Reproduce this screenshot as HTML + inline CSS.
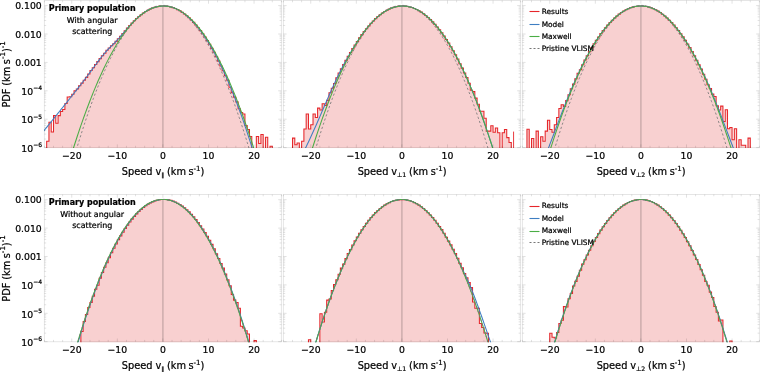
<!DOCTYPE html>
<html lang="en"><head><meta charset="utf-8"><title>PDF of speeds</title>
<style>html,body{margin:0;padding:0;background:#fff}svg{display:block}text{stroke:#000;stroke-width:0.22px;stroke-linejoin:round}</style></head>
<body>
<svg width="760" height="372" viewBox="0 0 760 372" font-family='"DejaVu Sans","Liberation Sans",sans-serif' fill="#000">
<rect width="760" height="372" fill="#fff"/>
<defs>
<clipPath id="c00"><rect x="43.9" y="0" width="238.0" height="148.1"/></clipPath>
<clipPath id="c01"><rect x="282.9" y="0" width="238.0" height="148.1"/></clipPath>
<clipPath id="c02"><rect x="521.9" y="0" width="238.0" height="148.1"/></clipPath>
<clipPath id="c10"><rect x="43.9" y="194" width="238.0" height="148.2"/></clipPath>
<clipPath id="c11"><rect x="282.9" y="194" width="238.0" height="148.2"/></clipPath>
<clipPath id="c12"><rect x="521.9" y="194" width="238.0" height="148.2"/></clipPath>
</defs>
<g clip-path="url(#c00)">
<path d="M44.39 150.6L44.39 150.6L46.67 150.6L46.67 141.2L48.95 141.2L48.95 122.3L51.23 122.3L51.23 132L53.51 132L53.51 115.6L55.79 115.6L55.79 123.3L58.07 123.3L58.07 115.6L60.35 115.6L60.35 111.5L62.62 111.5L62.62 109.5L64.9 109.5L64.9 103.5L67.18 103.5L67.18 97L69.46 97L69.46 96.7L71.74 96.7L71.74 94.3L74.02 94.3L74.02 90.8L76.3 90.8L76.3 89.03L78.58 89.03L78.58 85.68L80.86 85.68L80.86 83.11L83.14 83.11L83.14 80.15L85.41 80.15L85.41 77.35L87.69 77.35L87.69 74.03L89.97 74.03L89.97 70.57L92.25 70.57L92.25 67.7L94.53 67.7L94.53 64.5L96.81 64.5L96.81 61.62L99.09 61.62L99.09 58.61L101.37 58.61L101.37 55.75L103.65 55.75L103.65 53.26L105.93 53.26L105.93 50.34L108.2 50.34L108.2 47.98L110.48 47.98L110.48 45.7L112.76 45.7L112.76 43.67L115.04 43.67L115.04 41.35L117.32 41.35L117.32 38.83L119.6 38.83L119.6 36.22L121.88 36.22L121.88 33.49L124.16 33.49L124.16 30.81L126.44 30.81L126.44 28.11L128.72 28.11L128.72 25.57L130.99 25.57L130.99 23.05L133.27 23.05L133.27 20.71L135.55 20.71L135.55 18.57L137.83 18.57L137.83 16.47L140.11 16.47L140.11 14.66L142.39 14.66L142.39 12.96L144.67 12.96L144.67 11.52L146.95 11.52L146.95 10.2L149.23 10.2L149.23 9.05L151.5 9.05L151.5 8.08L153.78 8.08L153.78 7.29L156.06 7.29L156.06 6.7L158.34 6.7L158.34 6.3L160.62 6.3L160.62 6.07L162.9 6.07L162.9 6.01L165.18 6.01L165.18 6.1L167.46 6.1L167.46 6.47L169.74 6.47L169.74 6.95L172.02 6.95L172.02 7.64L174.3 7.64L174.3 8.57L176.57 8.57L176.57 9.61L178.85 9.61L178.85 10.84L181.13 10.84L181.13 12.37L183.41 12.37L183.41 13.96L185.69 13.96L185.69 15.78L187.97 15.78L187.97 17.82L190.25 17.82L190.25 19.97L192.53 19.97L192.53 22.38L194.81 22.38L194.81 25.02L197.09 25.02L197.09 27.67L199.36 27.67L199.36 30.63L201.64 30.63L201.64 33.74L203.92 33.74L203.92 37.02L206.2 37.02L206.2 40.62L208.48 40.62L208.48 44.34L210.76 44.34L210.76 48.39L213.04 48.39L213.04 52.24L215.32 52.24L215.32 56.69L217.6 56.69L217.6 61.13L219.88 61.13L219.88 65.98L222.15 65.98L222.15 70.8L224.43 70.8L224.43 75.72L226.71 75.72L226.71 80.18L228.99 80.18L228.99 87.24L231.27 87.24L231.27 92.71L233.55 92.71L233.55 97.29L235.83 97.29L235.83 101.87L238.11 101.87L238.11 108.79L240.39 108.79L240.39 112.5L242.67 112.5L242.67 113.9L244.94 113.9L244.94 125.5L247.22 125.5L247.22 129.5L249.5 129.5L249.5 136.5L251.78 136.5L251.78 150.6L254.06 150.6L254.06 150.6L256.34 150.6L256.34 136.4L258.62 136.4L258.62 143.4L260.9 143.4L260.9 134.5L263.18 134.5L263.18 150.6L265.45 150.6L265.45 137.3L267.73 137.3L267.73 150.6L270.01 150.6L270.01 146.3L272.29 146.3L272.29 150.6L274.57 150.6L274.57 150.6L276.85 150.6L276.85 150.6L279.13 150.6L279.13 150.6L281.41 150.6L281.41 150.6Z" fill="#f8d0d0" stroke="#e6262a" stroke-width="1.05" stroke-linejoin="miter"/>
<path d="M162.9 6.41V147.6" stroke="#000" stroke-opacity="0.19" stroke-width="1.4" fill="none"/>
<path d="M42.11 133.03L43.25 131.61L44.39 130.2L45.53 128.78L46.67 127.37L47.81 125.95L48.95 124.53L50.09 123.12L51.23 121.7L52.37 120.29L53.51 118.87L54.65 117.45L55.79 116.03L56.93 114.62L58.07 113.2L59.21 111.78L60.35 110.36L61.48 108.94L62.62 107.52L63.76 106.1L64.9 104.68L66.04 103.26L67.18 101.83L68.32 100.4L69.46 98.97L70.6 97.54L71.74 96.11L72.88 94.67L74.02 93.23L75.16 91.78L76.3 90.33L77.44 88.88L78.58 87.42L79.72 85.95L80.86 84.48L82 83L83.14 81.51L84.27 80.02L85.41 78.51L86.55 77L87.69 75.49L88.83 73.96L89.97 72.43L91.11 70.9L92.25 69.36L93.39 67.81L94.53 66.27L95.67 64.73L96.81 63.2L97.95 61.67L99.09 60.17L100.23 58.68L101.37 57.21L102.51 55.78L103.65 54.38L104.79 53.03L105.93 51.71L107.06 50.45L108.2 49.22L109.34 48.04L110.48 46.89L111.62 45.76L112.76 44.63L113.9 43.51L115.04 42.37L116.18 41.2L117.32 40L118.46 38.76L119.6 37.49L120.74 36.19L121.88 34.86L123.02 33.51L124.16 32.16L125.3 30.81L126.44 29.47L127.58 28.14L128.72 26.83L129.85 25.54L130.99 24.29L132.13 23.07L133.27 21.88L134.41 20.73L135.55 19.62L136.69 18.54L137.83 17.51L138.97 16.52L140.11 15.58L141.25 14.67L142.39 13.81L143.53 13L144.67 12.23L145.81 11.5L146.95 10.82L148.09 10.18L149.23 9.59L150.37 9.04L151.5 8.54L152.64 8.08L153.78 7.67L154.92 7.3L156.06 6.98L157.2 6.7L158.34 6.47L159.48 6.29L160.62 6.15L161.76 6.05L162.9 6L164.04 6L165.18 6.04L166.32 6.13L167.46 6.27L168.6 6.45L169.74 6.68L170.88 6.96L172.02 7.28L173.16 7.65L174.3 8.07L175.43 8.54L176.57 9.05L177.71 9.61L178.85 10.22L179.99 10.87L181.13 11.57L182.27 12.32L183.41 13.11L184.55 13.95L185.69 14.84L186.83 15.78L187.97 16.76L189.11 17.79L190.25 18.86L191.39 19.99L192.53 21.16L193.67 22.37L194.81 23.64L195.95 24.95L197.09 26.31L198.22 27.71L199.36 29.17L200.5 30.66L201.64 32.21L202.78 33.8L203.92 35.44L205.06 37.13L206.2 38.87L207.34 40.65L208.48 42.47L209.62 44.35L210.76 46.27L211.9 48.24L213.04 50.26L214.18 52.32L215.32 54.43L216.46 56.59L217.6 58.79L218.74 61.04L219.88 63.34L221.01 65.69L222.15 68.08L223.29 70.52L224.43 73L225.57 75.54L226.71 78.12L227.85 80.74L228.99 83.42L230.13 86.14L231.27 88.91L232.41 91.72L233.55 94.58L234.69 97.49L235.83 100.45L236.97 103.45L238.11 106.5L239.25 109.6L240.39 112.74L241.53 115.93L242.67 119.16L243.8 122.45L244.94 125.78L246.08 129.16L247.22 132.58L248.36 136.05L249.5 139.56L250.64 143.13L251.78 146.73L252.92 150.39L254.06 154.09L255.2 157.83L256.34 161.62L257.48 165.45L258.62 169.32L259.76 173.24L260.9 177.19L262.04 181.18L263.18 185.21L264.32 189.27L265.45 193.36L266.59 197.47L267.73 201.6L268.87 205.74L270.01 209.87L271.15 214L272.29 218.08L273.43 222.12L274.57 226.09L275.71 229.96L276.85 233.71L277.99 237.3L279.13 240.72L280.27 243.93L281.41 246.94L282.55 249.72L283.69 252.29" fill="none" stroke="#3e7ec2" stroke-width="1.05"/>
<path d="M42.11 264.03L43.25 259.21L44.39 254.44L45.53 249.71L46.67 245.03L47.81 240.39L48.95 235.8L50.09 231.25L51.23 226.75L52.37 222.3L53.51 217.89L54.65 213.52L55.79 209.21L56.93 204.93L58.07 200.7L59.21 196.52L60.35 192.38L61.48 188.29L62.62 184.25L63.76 180.24L64.9 176.29L66.04 172.38L67.18 168.51L68.32 164.7L69.46 160.92L70.6 157.19L71.74 153.51L72.88 149.87L74.02 146.28L75.16 142.73L76.3 139.23L77.44 135.78L78.58 132.36L79.72 129L80.86 125.68L82 122.41L83.14 119.18L84.27 115.99L85.41 112.86L86.55 109.76L87.69 106.72L88.83 103.71L89.97 100.76L91.11 97.85L92.25 94.98L93.39 92.16L94.53 89.39L95.67 86.66L96.81 83.97L97.95 81.33L99.09 78.74L100.23 76.19L101.37 73.69L102.51 71.23L103.65 68.82L104.79 66.46L105.93 64.14L107.06 61.86L108.2 59.63L109.34 57.45L110.48 55.31L111.62 53.21L112.76 51.16L113.9 49.16L115.04 47.2L116.18 45.29L117.32 43.43L118.46 41.61L119.6 39.83L120.74 38.1L121.88 36.41L123.02 34.78L124.16 33.18L125.3 31.63L126.44 30.13L127.58 28.67L128.72 27.26L129.85 25.89L130.99 24.57L132.13 23.29L133.27 22.06L134.41 20.88L135.55 19.74L136.69 18.64L137.83 17.6L138.97 16.59L140.11 15.63L141.25 14.72L142.39 13.85L143.53 13.03L144.67 12.25L145.81 11.52L146.95 10.84L148.09 10.2L149.23 9.6L150.37 9.05L151.5 8.55L152.64 8.09L153.78 7.68L154.92 7.31L156.06 6.99L157.2 6.71L158.34 6.48L159.48 6.29L160.62 6.15L161.76 6.06L162.9 6.01L164.04 6L165.18 6.04L166.32 6.13L167.46 6.26L168.6 6.44L169.74 6.66L170.88 6.93L172.02 7.24L173.16 7.6L174.3 8L175.43 8.45L176.57 8.95L177.71 9.49L178.85 10.07L179.99 10.71L181.13 11.38L182.27 12.1L183.41 12.87L184.55 13.68L185.69 14.54L186.83 15.45L187.97 16.4L189.11 17.39L190.25 18.43L191.39 19.52L192.53 20.65L193.67 21.82L194.81 23.04L195.95 24.31L197.09 25.62L198.22 26.98L199.36 28.39L200.5 29.83L201.64 31.33L202.78 32.87L203.92 34.45L205.06 36.08L206.2 37.76L207.34 39.48L208.48 41.25L209.62 43.06L210.76 44.92L211.9 46.82L213.04 48.77L214.18 50.76L215.32 52.8L216.46 54.88L217.6 57.01L218.74 59.19L219.88 61.41L221.01 63.68L222.15 65.99L223.29 68.34L224.43 70.75L225.57 73.2L226.71 75.69L227.85 78.23L228.99 80.81L230.13 83.44L231.27 86.12L232.41 88.84L233.55 91.6L234.69 94.41L235.83 97.27L236.97 100.17L238.11 103.12L239.25 106.11L240.39 109.15L241.53 112.23L242.67 115.36L243.8 118.54L244.94 121.76L246.08 125.02L247.22 128.33L248.36 131.69L249.5 135.09L250.64 138.54L251.78 142.03L252.92 145.57L254.06 149.15L255.2 152.78L256.34 156.45L257.48 160.17L258.62 163.94L259.76 167.75L260.9 171.6L262.04 175.5L263.18 179.45L264.32 183.44L265.45 187.48L266.59 191.56L267.73 195.69L268.87 199.86L270.01 204.08L271.15 208.35L272.29 212.66L273.43 217.01L274.57 221.41L275.71 225.86L276.85 230.35L277.99 234.89L279.13 239.47L280.27 244.1L281.41 248.77L282.55 253.49L283.69 258.25" fill="none" stroke="#4aad45" stroke-width="1.05"/>
<path d="M42.11 286.51L43.25 281.24L44.39 276.01L45.53 270.83L46.67 265.7L47.81 260.62L48.95 255.59L50.09 250.61L51.23 245.68L52.37 240.8L53.51 235.98L54.65 231.2L55.79 226.47L56.93 221.79L58.07 217.16L59.21 212.58L60.35 208.05L61.48 203.58L62.62 199.15L63.76 194.77L64.9 190.44L66.04 186.16L67.18 181.93L68.32 177.76L69.46 173.63L70.6 169.55L71.74 165.52L72.88 161.54L74.02 157.62L75.16 153.74L76.3 149.91L77.44 146.13L78.58 142.4L79.72 138.73L80.86 135.1L82 131.52L83.14 127.99L84.27 124.52L85.41 121.09L86.55 117.71L87.69 114.38L88.83 111.11L89.97 107.88L91.11 104.7L92.25 101.57L93.39 98.5L94.53 95.47L95.67 92.49L96.81 89.56L97.95 86.69L99.09 83.86L100.23 81.08L101.37 78.36L102.51 75.68L103.65 73.05L104.79 70.47L105.93 67.95L107.06 65.47L108.2 63.04L109.34 60.67L110.48 58.34L111.62 56.06L112.76 53.84L113.9 51.66L115.04 49.53L116.18 47.46L117.32 45.43L118.46 43.45L119.6 41.53L120.74 39.65L121.88 37.82L123.02 36.05L124.16 34.32L125.3 32.65L126.44 31.02L127.58 29.44L128.72 27.92L129.85 26.44L130.99 25.01L132.13 23.64L133.27 22.31L134.41 21.04L135.55 19.81L136.69 18.63L137.83 17.51L138.97 16.43L140.11 15.41L141.25 14.43L142.39 13.51L143.53 12.63L144.67 11.8L145.81 11.03L146.95 10.3L148.09 9.63L149.23 9L150.37 8.43L151.5 7.9L152.64 7.43L153.78 7L154.92 6.63L156.06 6.3L157.2 6.02L158.34 5.8L159.48 5.62L160.62 5.5L161.76 5.42L162.9 5.4L164.04 5.42L165.18 5.5L166.32 5.62L167.46 5.8L168.6 6.02L169.74 6.3L170.88 6.63L172.02 7L173.16 7.43L174.3 7.9L175.43 8.43L176.57 9L177.71 9.63L178.85 10.3L179.99 11.03L181.13 11.8L182.27 12.63L183.41 13.51L184.55 14.43L185.69 15.41L186.83 16.43L187.97 17.51L189.11 18.63L190.25 19.81L191.39 21.04L192.53 22.31L193.67 23.64L194.81 25.01L195.95 26.44L197.09 27.92L198.22 29.44L199.36 31.02L200.5 32.65L201.64 34.32L202.78 36.05L203.92 37.82L205.06 39.65L206.2 41.53L207.34 43.45L208.48 45.43L209.62 47.46L210.76 49.53L211.9 51.66L213.04 53.84L214.18 56.06L215.32 58.34L216.46 60.67L217.6 63.04L218.74 65.47L219.88 67.95L221.01 70.47L222.15 73.05L223.29 75.68L224.43 78.36L225.57 81.08L226.71 83.86L227.85 86.69L228.99 89.56L230.13 92.49L231.27 95.47L232.41 98.5L233.55 101.57L234.69 104.7L235.83 107.88L236.97 111.11L238.11 114.38L239.25 117.71L240.39 121.09L241.53 124.52L242.67 127.99L243.8 131.52L244.94 135.1L246.08 138.73L247.22 142.4L248.36 146.13L249.5 149.91L250.64 153.74L251.78 157.62L252.92 161.54L254.06 165.52L255.2 169.55L256.34 173.63L257.48 177.76L258.62 181.93L259.76 186.16L260.9 190.44L262.04 194.77L263.18 199.15L264.32 203.58L265.45 208.05L266.59 212.58L267.73 217.16L268.87 221.79L270.01 226.47L271.15 231.2L272.29 235.98L273.43 240.8L274.57 245.68L275.71 250.61L276.85 255.59L277.99 260.62L279.13 265.7L280.27 270.83L281.41 276.01L282.55 281.24L283.69 286.51" fill="none" stroke="#777" stroke-width="0.85" stroke-dasharray="2.2 2.2"/>
</g>
<g stroke="#000" stroke-opacity="0.1" stroke-width="1" fill="none">
<rect x="44.4" y="0.5" width="237.0" height="147.1"/>
<path d="M44.39 147.6v-1.8M44.39 0.5v1.8M53.51 147.6v-1.8M53.51 0.5v1.8M62.62 147.6v-1.8M62.62 0.5v1.8M71.74 147.6v-3.2M71.74 0.5v3.2M80.86 147.6v-1.8M80.86 0.5v1.8M89.97 147.6v-1.8M89.97 0.5v1.8M99.09 147.6v-1.8M99.09 0.5v1.8M108.2 147.6v-1.8M108.2 0.5v1.8M117.32 147.6v-3.2M117.32 0.5v3.2M126.44 147.6v-1.8M126.44 0.5v1.8M135.55 147.6v-1.8M135.55 0.5v1.8M144.67 147.6v-1.8M144.67 0.5v1.8M153.78 147.6v-1.8M153.78 0.5v1.8M162.9 147.6v-3.2M162.9 0.5v3.2M172.02 147.6v-1.8M172.02 0.5v1.8M181.13 147.6v-1.8M181.13 0.5v1.8M190.25 147.6v-1.8M190.25 0.5v1.8M199.36 147.6v-1.8M199.36 0.5v1.8M208.48 147.6v-3.2M208.48 0.5v3.2M217.6 147.6v-1.8M217.6 0.5v1.8M226.71 147.6v-1.8M226.71 0.5v1.8M235.83 147.6v-1.8M235.83 0.5v1.8M244.94 147.6v-1.8M244.94 0.5v1.8M254.06 147.6v-3.2M254.06 0.5v3.2M263.18 147.6v-1.8M263.18 0.5v1.8M272.29 147.6v-1.8M272.29 0.5v1.8M281.41 147.6v-1.8M281.41 0.5v1.8M44.4 147.6h3.2M281.4 147.6h-3.2M44.4 139.05h1.8M281.4 139.05h-1.8M44.4 134.05h1.8M281.4 134.05h-1.8M44.4 130.5h1.8M281.4 130.5h-1.8M44.4 127.75h1.8M281.4 127.75h-1.8M44.4 125.5h1.8M281.4 125.5h-1.8M44.4 123.6h1.8M281.4 123.6h-1.8M44.4 121.95h1.8M281.4 121.95h-1.8M44.4 120.5h1.8M281.4 120.5h-1.8M44.4 119.2h3.2M281.4 119.2h-3.2M44.4 110.65h1.8M281.4 110.65h-1.8M44.4 105.65h1.8M281.4 105.65h-1.8M44.4 102.1h1.8M281.4 102.1h-1.8M44.4 99.35h1.8M281.4 99.35h-1.8M44.4 97.1h1.8M281.4 97.1h-1.8M44.4 95.2h1.8M281.4 95.2h-1.8M44.4 93.55h1.8M281.4 93.55h-1.8M44.4 92.1h1.8M281.4 92.1h-1.8M44.4 90.8h3.2M281.4 90.8h-3.2M44.4 82.25h1.8M281.4 82.25h-1.8M44.4 77.25h1.8M281.4 77.25h-1.8M44.4 73.7h1.8M281.4 73.7h-1.8M44.4 70.95h1.8M281.4 70.95h-1.8M44.4 68.7h1.8M281.4 68.7h-1.8M44.4 66.8h1.8M281.4 66.8h-1.8M44.4 65.15h1.8M281.4 65.15h-1.8M44.4 63.7h1.8M281.4 63.7h-1.8M44.4 62.4h3.2M281.4 62.4h-3.2M44.4 53.85h1.8M281.4 53.85h-1.8M44.4 48.85h1.8M281.4 48.85h-1.8M44.4 45.3h1.8M281.4 45.3h-1.8M44.4 42.55h1.8M281.4 42.55h-1.8M44.4 40.3h1.8M281.4 40.3h-1.8M44.4 38.4h1.8M281.4 38.4h-1.8M44.4 36.75h1.8M281.4 36.75h-1.8M44.4 35.3h1.8M281.4 35.3h-1.8M44.4 34h3.2M281.4 34h-3.2M44.4 25.45h1.8M281.4 25.45h-1.8M44.4 20.45h1.8M281.4 20.45h-1.8M44.4 16.9h1.8M281.4 16.9h-1.8M44.4 14.15h1.8M281.4 14.15h-1.8M44.4 11.9h1.8M281.4 11.9h-1.8M44.4 10h1.8M281.4 10h-1.8M44.4 8.35h1.8M281.4 8.35h-1.8M44.4 6.9h1.8M281.4 6.9h-1.8M44.4 5.6h3.2M281.4 5.6h-3.2" stroke-opacity="0.17" stroke-width="0.7"/>
</g>
<text x="71.74" y="158.8" font-size="9.3" text-anchor="middle">−20</text>
<text x="117.32" y="158.8" font-size="9.3" text-anchor="middle">−10</text>
<text x="162.9" y="158.8" font-size="9.3" text-anchor="middle">0</text>
<text x="208.48" y="158.8" font-size="9.3" text-anchor="middle">10</text>
<text x="254.06" y="158.8" font-size="9.3" text-anchor="middle">20</text>
<text x="163.1" y="175.1" font-size="9.8" word-spacing="-0.3" text-anchor="middle">Speed v<tspan font-size="5.8" dy="1.6">∥</tspan><tspan dy="-1.6"> (km</tspan><tspan dx="-0.35"> s</tspan><tspan font-size="7" dy="-4.5">-1</tspan><tspan dy="4.5">)</tspan></text>
<g clip-path="url(#c01)">
<path d="M283.39 150.6L283.39 150.6L285.67 150.6L285.67 150.6L287.95 150.6L287.95 150.6L290.23 150.6L290.23 150.6L292.51 150.6L292.51 138.1L294.79 138.1L294.79 144.8L297.07 144.8L297.07 142.9L299.34 142.9L299.34 150.6L301.62 150.6L301.62 141.3L303.9 141.3L303.9 129L306.18 129L306.18 113.9L308.46 113.9L308.46 129L310.74 129L310.74 124.7L313.02 124.7L313.02 113.9L315.3 113.9L315.3 117.4L317.58 117.4L317.58 108.1L319.86 108.1L319.86 110L322.13 110L322.13 103.7L324.41 103.7L324.41 105.46L326.69 105.46L326.69 100.36L328.97 100.36L328.97 92.71L331.25 92.71L331.25 88.3L333.53 88.3L333.53 83.43L335.81 83.43L335.81 77.69L338.09 77.69L338.09 73.06L340.37 73.06L340.37 68.89L342.65 68.89L342.65 64.57L344.92 64.57L344.92 60.38L347.2 60.38L347.2 56.18L349.48 56.18L349.48 52.43L351.76 52.43L351.76 48.63L354.04 48.63L354.04 44.93L356.32 44.93L356.32 41.54L358.6 41.54L358.6 37.87L360.88 37.87L360.88 34.62L363.16 34.62L363.16 31.54L365.44 31.54L365.44 28.74L367.71 28.74L367.71 25.9L369.99 25.9L369.99 23.24L372.27 23.24L372.27 20.94L374.55 20.94L374.55 18.64L376.83 18.64L376.83 16.55L379.11 16.55L379.11 14.76L381.39 14.76L381.39 12.98L383.67 12.98L383.67 11.51L385.95 11.51L385.95 10.2L388.23 10.2L388.23 9.04L390.5 9.04L390.5 8.07L392.78 8.07L392.78 7.31L395.06 7.31L395.06 6.68L397.34 6.68L397.34 6.31L399.62 6.31L399.62 6.06L401.9 6.06L401.9 5.98L404.18 5.98L404.18 6.13L406.46 6.13L406.46 6.46L408.74 6.46L408.74 6.91L411.02 6.91L411.02 7.57L413.29 7.57L413.29 8.46L415.57 8.46L415.57 9.52L417.85 9.52L417.85 10.71L420.13 10.71L420.13 12.11L422.41 12.11L422.41 13.69L424.69 13.69L424.69 15.4L426.97 15.4L426.97 17.42L429.25 17.42L429.25 19.47L431.53 19.47L431.53 21.87L433.81 21.87L433.81 24.35L436.08 24.35L436.08 26.95L438.36 26.95L438.36 29.77L440.64 29.77L440.64 32.81L442.92 32.81L442.92 36.06L445.2 36.06L445.2 39.47L447.48 39.47L447.48 43.04L449.76 43.04L449.76 46.76L452.04 46.76L452.04 50.78L454.32 50.78L454.32 54.84L456.6 54.84L456.6 59.09L458.88 59.09L458.88 63.68L461.15 63.68L461.15 68.14L463.43 68.14L463.43 73.01L465.71 73.01L465.71 77.44L467.99 77.44L467.99 83.28L470.27 83.28L470.27 90.3L472.55 90.3L472.55 91.6L474.83 91.6L474.83 98.1L477.11 98.1L477.11 104.2L479.39 104.2L479.39 111.3L481.66 111.3L481.66 111.3L483.94 111.3L483.94 118.2L486.22 118.2L486.22 131.1L488.5 131.1L488.5 131.1L490.78 131.1L490.78 125.8L493.06 125.8L493.06 132.3L495.34 132.3L495.34 127.9L497.62 127.9L497.62 132.7L499.9 132.7L499.9 150.6L502.18 150.6L502.18 132.7L504.45 132.7L504.45 129.5L506.73 129.5L506.73 137.6L509.01 137.6L509.01 142.4L511.29 142.4L511.29 150.6L513.57 150.6L513.57 150.6L515.85 150.6L515.85 150.6L518.13 150.6L518.13 150.6L520.41 150.6L520.41 150.6Z" fill="#f8d0d0" stroke="#e6262a" stroke-width="1.05" stroke-linejoin="miter"/>
<path d="M513.57 131.6V150.6" stroke="#e6262a" stroke-width="0.9" fill="none"/>
<path d="M401.9 6.41V147.6" stroke="#000" stroke-opacity="0.19" stroke-width="1.4" fill="none"/>
<path d="M281.11 193.57L282.25 191.53L283.39 189.49L284.53 187.44L285.67 185.39L286.81 183.34L287.95 181.28L289.09 179.21L290.23 177.14L291.37 175.07L292.51 172.98L293.65 170.88L294.79 168.77L295.93 166.65L297.07 164.51L298.21 162.35L299.34 160.18L300.48 157.99L301.62 155.77L302.76 153.53L303.9 151.26L305.04 148.97L306.18 146.65L307.32 144.29L308.46 141.91L309.6 139.5L310.74 137.05L311.88 134.58L313.02 132.08L314.16 129.55L315.3 127L316.44 124.42L317.58 121.83L318.72 119.21L319.86 116.59L321 113.96L322.13 111.32L323.27 108.67L324.41 106.03L325.55 103.39L326.69 100.76L327.83 98.15L328.97 95.55L330.11 92.97L331.25 90.41L332.39 87.88L333.53 85.37L334.67 82.9L335.81 80.47L336.95 78.08L338.09 75.72L339.23 73.41L340.37 71.15L341.51 68.93L342.65 66.75L343.79 64.62L344.92 62.53L346.06 60.47L347.2 58.44L348.34 56.44L349.48 54.46L350.62 52.51L351.76 50.59L352.9 48.69L354.04 46.82L355.18 44.98L356.32 43.18L357.46 41.4L358.6 39.67L359.74 37.97L360.88 36.31L362.02 34.69L363.16 33.11L364.3 31.58L365.44 30.08L366.58 28.63L367.71 27.23L368.85 25.87L369.99 24.55L371.13 23.28L372.27 22.05L373.41 20.87L374.55 19.73L375.69 18.64L376.83 17.59L377.97 16.59L379.11 15.63L380.25 14.72L381.39 13.85L382.53 13.03L383.67 12.25L384.81 11.52L385.95 10.84L387.09 10.2L388.23 9.6L389.37 9.05L390.5 8.55L391.64 8.09L392.78 7.68L393.92 7.31L395.06 6.99L396.2 6.71L397.34 6.48L398.48 6.29L399.62 6.15L400.76 6.05L401.9 6L403.04 6L404.18 6.04L405.32 6.13L406.46 6.26L407.6 6.44L408.74 6.66L409.88 6.93L411.02 7.24L412.16 7.6L413.29 8L414.43 8.45L415.57 8.95L416.71 9.49L417.85 10.07L418.99 10.71L420.13 11.38L421.27 12.1L422.41 12.87L423.55 13.68L424.69 14.54L425.83 15.45L426.97 16.4L428.11 17.39L429.25 18.43L430.39 19.52L431.53 20.65L432.67 21.82L433.81 23.04L434.95 24.31L436.08 25.62L437.22 26.98L438.36 28.39L439.5 29.83L440.64 31.33L441.78 32.87L442.92 34.45L444.06 36.08L445.2 37.76L446.34 39.48L447.48 41.25L448.62 43.06L449.76 44.92L450.9 46.82L452.04 48.77L453.18 50.76L454.32 52.8L455.46 54.88L456.6 57.01L457.74 59.19L458.88 61.41L460.01 63.68L461.15 65.99L462.29 68.34L463.43 70.75L464.57 73.19L465.71 75.69L466.85 78.23L467.99 80.81L469.13 83.44L470.27 86.11L471.41 88.83L472.55 91.6L473.69 94.41L474.83 97.27L475.97 100.17L477.11 103.11L478.25 106.11L479.39 109.14L480.53 112.23L481.66 115.35L482.8 118.53L483.94 121.75L485.08 125.01L486.22 128.32L487.36 131.67L488.5 135.07L489.64 138.51L490.78 141.99L491.92 145.52L493.06 149.1L494.2 152.72L495.34 156.37L496.48 160.08L497.62 163.82L498.76 167.6L499.9 171.41L501.04 175.27L502.18 179.15L503.32 183.06L504.45 187L505.59 190.95L506.73 194.91L507.87 198.87L509.01 202.82L510.15 206.73L511.29 210.59L512.43 214.37L513.57 218.05L514.71 221.6L515.85 224.98L516.99 228.17L518.13 231.15L519.27 233.9L520.41 236.4L521.55 238.68L522.69 240.74" fill="none" stroke="#3e7ec2" stroke-width="1.05"/>
<path d="M281.11 264.03L282.25 259.21L283.39 254.44L284.53 249.71L285.67 245.03L286.81 240.39L287.95 235.8L289.09 231.25L290.23 226.75L291.37 222.3L292.51 217.89L293.65 213.52L294.79 209.21L295.93 204.93L297.07 200.7L298.21 196.52L299.34 192.38L300.48 188.29L301.62 184.25L302.76 180.24L303.9 176.29L305.04 172.38L306.18 168.51L307.32 164.7L308.46 160.92L309.6 157.19L310.74 153.51L311.88 149.87L313.02 146.28L314.16 142.73L315.3 139.23L316.44 135.78L317.58 132.36L318.72 129L319.86 125.68L321 122.41L322.13 119.18L323.27 115.99L324.41 112.86L325.55 109.76L326.69 106.72L327.83 103.71L328.97 100.76L330.11 97.85L331.25 94.98L332.39 92.16L333.53 89.39L334.67 86.66L335.81 83.97L336.95 81.33L338.09 78.74L339.23 76.19L340.37 73.69L341.51 71.23L342.65 68.82L343.79 66.46L344.92 64.14L346.06 61.86L347.2 59.63L348.34 57.45L349.48 55.31L350.62 53.21L351.76 51.16L352.9 49.16L354.04 47.2L355.18 45.29L356.32 43.43L357.46 41.61L358.6 39.83L359.74 38.1L360.88 36.41L362.02 34.78L363.16 33.18L364.3 31.63L365.44 30.13L366.58 28.67L367.71 27.26L368.85 25.89L369.99 24.57L371.13 23.29L372.27 22.06L373.41 20.88L374.55 19.74L375.69 18.64L376.83 17.6L377.97 16.59L379.11 15.63L380.25 14.72L381.39 13.85L382.53 13.03L383.67 12.25L384.81 11.52L385.95 10.84L387.09 10.2L388.23 9.6L389.37 9.05L390.5 8.55L391.64 8.09L392.78 7.68L393.92 7.31L395.06 6.99L396.2 6.71L397.34 6.48L398.48 6.29L399.62 6.15L400.76 6.06L401.9 6.01L403.04 6L404.18 6.04L405.32 6.13L406.46 6.26L407.6 6.44L408.74 6.66L409.88 6.93L411.02 7.24L412.16 7.6L413.29 8L414.43 8.45L415.57 8.95L416.71 9.49L417.85 10.07L418.99 10.71L420.13 11.38L421.27 12.1L422.41 12.87L423.55 13.68L424.69 14.54L425.83 15.45L426.97 16.4L428.11 17.39L429.25 18.43L430.39 19.52L431.53 20.65L432.67 21.82L433.81 23.04L434.95 24.31L436.08 25.62L437.22 26.98L438.36 28.39L439.5 29.83L440.64 31.33L441.78 32.87L442.92 34.45L444.06 36.08L445.2 37.76L446.34 39.48L447.48 41.25L448.62 43.06L449.76 44.92L450.9 46.82L452.04 48.77L453.18 50.76L454.32 52.8L455.46 54.88L456.6 57.01L457.74 59.19L458.88 61.41L460.01 63.68L461.15 65.99L462.29 68.34L463.43 70.75L464.57 73.2L465.71 75.69L466.85 78.23L467.99 80.81L469.13 83.44L470.27 86.12L471.41 88.84L472.55 91.6L473.69 94.41L474.83 97.27L475.97 100.17L477.11 103.12L478.25 106.11L479.39 109.15L480.53 112.23L481.66 115.36L482.8 118.54L483.94 121.76L485.08 125.02L486.22 128.33L487.36 131.69L488.5 135.09L489.64 138.54L490.78 142.03L491.92 145.57L493.06 149.15L494.2 152.78L495.34 156.45L496.48 160.17L497.62 163.94L498.76 167.75L499.9 171.6L501.04 175.5L502.18 179.45L503.32 183.44L504.45 187.48L505.59 191.56L506.73 195.69L507.87 199.86L509.01 204.08L510.15 208.35L511.29 212.66L512.43 217.01L513.57 221.41L514.71 225.86L515.85 230.35L516.99 234.89L518.13 239.47L519.27 244.1L520.41 248.77L521.55 253.49L522.69 258.25" fill="none" stroke="#4aad45" stroke-width="1.05"/>
<path d="M281.11 286.51L282.25 281.24L283.39 276.01L284.53 270.83L285.67 265.7L286.81 260.62L287.95 255.59L289.09 250.61L290.23 245.68L291.37 240.8L292.51 235.98L293.65 231.2L294.79 226.47L295.93 221.79L297.07 217.16L298.21 212.58L299.34 208.05L300.48 203.58L301.62 199.15L302.76 194.77L303.9 190.44L305.04 186.16L306.18 181.93L307.32 177.76L308.46 173.63L309.6 169.55L310.74 165.52L311.88 161.54L313.02 157.62L314.16 153.74L315.3 149.91L316.44 146.13L317.58 142.4L318.72 138.73L319.86 135.1L321 131.52L322.13 127.99L323.27 124.52L324.41 121.09L325.55 117.71L326.69 114.38L327.83 111.11L328.97 107.88L330.11 104.7L331.25 101.57L332.39 98.5L333.53 95.47L334.67 92.49L335.81 89.56L336.95 86.69L338.09 83.86L339.23 81.08L340.37 78.36L341.51 75.68L342.65 73.05L343.79 70.47L344.92 67.95L346.06 65.47L347.2 63.04L348.34 60.67L349.48 58.34L350.62 56.06L351.76 53.84L352.9 51.66L354.04 49.53L355.18 47.46L356.32 45.43L357.46 43.45L358.6 41.53L359.74 39.65L360.88 37.82L362.02 36.05L363.16 34.32L364.3 32.65L365.44 31.02L366.58 29.44L367.71 27.92L368.85 26.44L369.99 25.01L371.13 23.64L372.27 22.31L373.41 21.04L374.55 19.81L375.69 18.63L376.83 17.51L377.97 16.43L379.11 15.41L380.25 14.43L381.39 13.51L382.53 12.63L383.67 11.8L384.81 11.03L385.95 10.3L387.09 9.63L388.23 9L389.37 8.43L390.5 7.9L391.64 7.43L392.78 7L393.92 6.63L395.06 6.3L396.2 6.02L397.34 5.8L398.48 5.62L399.62 5.5L400.76 5.42L401.9 5.4L403.04 5.42L404.18 5.5L405.32 5.62L406.46 5.8L407.6 6.02L408.74 6.3L409.88 6.63L411.02 7L412.16 7.43L413.29 7.9L414.43 8.43L415.57 9L416.71 9.63L417.85 10.3L418.99 11.03L420.13 11.8L421.27 12.63L422.41 13.51L423.55 14.43L424.69 15.41L425.83 16.43L426.97 17.51L428.11 18.63L429.25 19.81L430.39 21.04L431.53 22.31L432.67 23.64L433.81 25.01L434.95 26.44L436.08 27.92L437.22 29.44L438.36 31.02L439.5 32.65L440.64 34.32L441.78 36.05L442.92 37.82L444.06 39.65L445.2 41.53L446.34 43.45L447.48 45.43L448.62 47.46L449.76 49.53L450.9 51.66L452.04 53.84L453.18 56.06L454.32 58.34L455.46 60.67L456.6 63.04L457.74 65.47L458.88 67.95L460.01 70.47L461.15 73.05L462.29 75.68L463.43 78.36L464.57 81.08L465.71 83.86L466.85 86.69L467.99 89.56L469.13 92.49L470.27 95.47L471.41 98.5L472.55 101.57L473.69 104.7L474.83 107.88L475.97 111.11L477.11 114.38L478.25 117.71L479.39 121.09L480.53 124.52L481.66 127.99L482.8 131.52L483.94 135.1L485.08 138.73L486.22 142.4L487.36 146.13L488.5 149.91L489.64 153.74L490.78 157.62L491.92 161.54L493.06 165.52L494.2 169.55L495.34 173.63L496.48 177.76L497.62 181.93L498.76 186.16L499.9 190.44L501.04 194.77L502.18 199.15L503.32 203.58L504.45 208.05L505.59 212.58L506.73 217.16L507.87 221.79L509.01 226.47L510.15 231.2L511.29 235.98L512.43 240.8L513.57 245.68L514.71 250.61L515.85 255.59L516.99 260.62L518.13 265.7L519.27 270.83L520.41 276.01L521.55 281.24L522.69 286.51" fill="none" stroke="#777" stroke-width="0.85" stroke-dasharray="2.2 2.2"/>
</g>
<g stroke="#000" stroke-opacity="0.1" stroke-width="1" fill="none">
<rect x="283.4" y="0.5" width="237.0" height="147.1"/>
<path d="M283.39 147.6v-1.8M283.39 0.5v1.8M292.51 147.6v-1.8M292.51 0.5v1.8M301.62 147.6v-1.8M301.62 0.5v1.8M310.74 147.6v-3.2M310.74 0.5v3.2M319.86 147.6v-1.8M319.86 0.5v1.8M328.97 147.6v-1.8M328.97 0.5v1.8M338.09 147.6v-1.8M338.09 0.5v1.8M347.2 147.6v-1.8M347.2 0.5v1.8M356.32 147.6v-3.2M356.32 0.5v3.2M365.44 147.6v-1.8M365.44 0.5v1.8M374.55 147.6v-1.8M374.55 0.5v1.8M383.67 147.6v-1.8M383.67 0.5v1.8M392.78 147.6v-1.8M392.78 0.5v1.8M401.9 147.6v-3.2M401.9 0.5v3.2M411.02 147.6v-1.8M411.02 0.5v1.8M420.13 147.6v-1.8M420.13 0.5v1.8M429.25 147.6v-1.8M429.25 0.5v1.8M438.36 147.6v-1.8M438.36 0.5v1.8M447.48 147.6v-3.2M447.48 0.5v3.2M456.6 147.6v-1.8M456.6 0.5v1.8M465.71 147.6v-1.8M465.71 0.5v1.8M474.83 147.6v-1.8M474.83 0.5v1.8M483.94 147.6v-1.8M483.94 0.5v1.8M493.06 147.6v-3.2M493.06 0.5v3.2M502.18 147.6v-1.8M502.18 0.5v1.8M511.29 147.6v-1.8M511.29 0.5v1.8M520.41 147.6v-1.8M520.41 0.5v1.8M283.4 147.6h3.2M520.4 147.6h-3.2M283.4 139.05h1.8M520.4 139.05h-1.8M283.4 134.05h1.8M520.4 134.05h-1.8M283.4 130.5h1.8M520.4 130.5h-1.8M283.4 127.75h1.8M520.4 127.75h-1.8M283.4 125.5h1.8M520.4 125.5h-1.8M283.4 123.6h1.8M520.4 123.6h-1.8M283.4 121.95h1.8M520.4 121.95h-1.8M283.4 120.5h1.8M520.4 120.5h-1.8M283.4 119.2h3.2M520.4 119.2h-3.2M283.4 110.65h1.8M520.4 110.65h-1.8M283.4 105.65h1.8M520.4 105.65h-1.8M283.4 102.1h1.8M520.4 102.1h-1.8M283.4 99.35h1.8M520.4 99.35h-1.8M283.4 97.1h1.8M520.4 97.1h-1.8M283.4 95.2h1.8M520.4 95.2h-1.8M283.4 93.55h1.8M520.4 93.55h-1.8M283.4 92.1h1.8M520.4 92.1h-1.8M283.4 90.8h3.2M520.4 90.8h-3.2M283.4 82.25h1.8M520.4 82.25h-1.8M283.4 77.25h1.8M520.4 77.25h-1.8M283.4 73.7h1.8M520.4 73.7h-1.8M283.4 70.95h1.8M520.4 70.95h-1.8M283.4 68.7h1.8M520.4 68.7h-1.8M283.4 66.8h1.8M520.4 66.8h-1.8M283.4 65.15h1.8M520.4 65.15h-1.8M283.4 63.7h1.8M520.4 63.7h-1.8M283.4 62.4h3.2M520.4 62.4h-3.2M283.4 53.85h1.8M520.4 53.85h-1.8M283.4 48.85h1.8M520.4 48.85h-1.8M283.4 45.3h1.8M520.4 45.3h-1.8M283.4 42.55h1.8M520.4 42.55h-1.8M283.4 40.3h1.8M520.4 40.3h-1.8M283.4 38.4h1.8M520.4 38.4h-1.8M283.4 36.75h1.8M520.4 36.75h-1.8M283.4 35.3h1.8M520.4 35.3h-1.8M283.4 34h3.2M520.4 34h-3.2M283.4 25.45h1.8M520.4 25.45h-1.8M283.4 20.45h1.8M520.4 20.45h-1.8M283.4 16.9h1.8M520.4 16.9h-1.8M283.4 14.15h1.8M520.4 14.15h-1.8M283.4 11.9h1.8M520.4 11.9h-1.8M283.4 10h1.8M520.4 10h-1.8M283.4 8.35h1.8M520.4 8.35h-1.8M283.4 6.9h1.8M520.4 6.9h-1.8M283.4 5.6h3.2M520.4 5.6h-3.2" stroke-opacity="0.17" stroke-width="0.7"/>
</g>
<text x="310.74" y="158.8" font-size="9.3" text-anchor="middle">−20</text>
<text x="356.32" y="158.8" font-size="9.3" text-anchor="middle">−10</text>
<text x="401.9" y="158.8" font-size="9.3" text-anchor="middle">0</text>
<text x="447.48" y="158.8" font-size="9.3" text-anchor="middle">10</text>
<text x="493.06" y="158.8" font-size="9.3" text-anchor="middle">20</text>
<text x="402.1" y="175.1" font-size="9.8" word-spacing="-0.3" text-anchor="middle">Speed v<tspan font-size="6.2" dy="1.6">⊥1</tspan><tspan dy="-1.6"> (km</tspan><tspan dx="-0.35"> s</tspan><tspan font-size="7" dy="-4.5">-1</tspan><tspan dy="4.5">)</tspan></text>
<g clip-path="url(#c02)">
<path d="M522.39 150.6L522.39 150.6L524.67 150.6L524.67 150.6L526.95 150.6L526.95 129.2L529.23 129.2L529.23 150.6L531.51 150.6L531.51 138.4L533.79 138.4L533.79 150.6L536.07 150.6L536.07 131.1L538.35 131.1L538.35 150.6L540.62 150.6L540.62 136.8L542.9 136.8L542.9 141.3L545.18 141.3L545.18 131.1L547.46 131.1L547.46 120.3L549.74 120.3L549.74 129.5L552.02 129.5L552.02 132.3L554.3 132.3L554.3 124.7L556.58 124.7L556.58 117.4L558.86 117.4L558.86 108.5L561.13 108.5L561.13 104.8L563.41 104.8L563.41 106.47L565.69 106.47L565.69 100.61L567.97 100.61L567.97 94.69L570.25 94.69L570.25 88.68L572.53 88.68L572.53 84.13L574.81 84.13L574.81 78.69L577.09 78.69L577.09 73.28L579.37 73.28L579.37 69.79L581.65 69.79L581.65 64.73L583.92 64.73L583.92 59.98L586.2 59.98L586.2 55.69L588.48 55.69L588.48 51.61L590.76 51.61L590.76 47.76L593.04 47.76L593.04 43.89L595.32 43.89L595.32 40.34L597.6 40.34L597.6 36.98L599.88 36.98L599.88 33.55L602.16 33.55L602.16 30.62L604.44 30.62L604.44 27.78L606.71 27.78L606.71 25.04L608.99 25.04L608.99 22.51L611.27 22.51L611.27 20.15L613.55 20.15L613.55 18.07L615.83 18.07L615.83 16L618.11 16L618.11 14.14L620.39 14.14L620.39 12.57L622.67 12.57L622.67 11.09L624.95 11.09L624.95 9.79L627.23 9.79L627.23 8.71L629.5 8.71L629.5 7.79L631.78 7.79L631.78 7.13L634.06 7.13L634.06 6.56L636.34 6.56L636.34 6.2L638.62 6.2L638.62 5.99L640.9 5.99L640.9 5.99L643.18 5.99L643.18 6.25L645.46 6.25L645.46 6.53L647.74 6.53L647.74 7.13L650.02 7.13L650.02 7.81L652.29 7.81L652.29 8.76L654.57 8.76L654.57 9.81L656.85 9.81L656.85 11.06L659.13 11.06L659.13 12.54L661.41 12.54L661.41 14.17L663.69 14.17L663.69 15.96L665.97 15.96L665.97 17.97L668.25 17.97L668.25 20.15L670.53 20.15L670.53 22.44L672.81 22.44L672.81 24.99L675.09 24.99L675.09 27.76L677.36 27.76L677.36 30.48L679.64 30.48L679.64 33.78L681.92 33.78L681.92 36.88L684.2 36.88L684.2 40.38L686.48 40.38L686.48 43.94L688.76 43.94L688.76 47.63L691.04 47.63L691.04 51.62L693.32 51.62L693.32 55.65L695.6 55.65L695.6 60.31L697.88 60.31L697.88 64.81L700.15 64.81L700.15 68.93L702.43 68.93L702.43 74.2L704.71 74.2L704.71 79.26L706.99 79.26L706.99 84.69L709.27 84.69L709.27 88.47L711.55 88.47L711.55 94.11L713.83 94.11L713.83 96.5L716.11 96.5L716.11 105.8L718.39 105.8L718.39 110L720.66 110L720.66 106.1L722.94 106.1L722.94 121.5L725.22 121.5L725.22 109.7L727.5 109.7L727.5 128.7L729.78 128.7L729.78 127.4L732.06 127.4L732.06 139.7L734.34 139.7L734.34 128.7L736.62 128.7L736.62 150.6L738.9 150.6L738.9 139.7L741.18 139.7L741.18 145.2L743.45 145.2L743.45 145.2L745.73 145.2L745.73 150.6L748.01 150.6L748.01 138.1L750.29 138.1L750.29 150.6L752.57 150.6L752.57 150.6L754.85 150.6L754.85 150.6L757.13 150.6L757.13 150.6L759.41 150.6L759.41 150.6Z" fill="#f8d0d0" stroke="#e6262a" stroke-width="1.05" stroke-linejoin="miter"/>
<path d="M640.9 6.4V147.6" stroke="#000" stroke-opacity="0.19" stroke-width="1.4" fill="none"/>
<path d="M520.11 208.05L521.25 205.97L522.39 203.89L523.53 201.8L524.67 199.69L525.81 197.57L526.95 195.43L528.09 193.27L529.23 191.09L530.37 188.88L531.51 186.64L532.65 184.36L533.79 182.05L534.93 179.69L536.07 177.29L537.21 174.84L538.35 172.34L539.48 169.79L540.62 167.19L541.76 164.54L542.9 161.83L544.04 159.08L545.18 156.27L546.32 153.43L547.46 150.54L548.6 147.62L549.74 144.68L550.88 141.7L552.02 138.71L553.16 135.71L554.3 132.7L555.44 129.68L556.58 126.67L557.72 123.66L558.86 120.66L560 117.68L561.13 114.71L562.27 111.77L563.41 108.85L564.55 105.95L565.69 103.09L566.83 100.25L567.97 97.45L569.11 94.68L570.25 91.95L571.39 89.25L572.53 86.59L573.67 83.97L574.81 81.38L575.95 78.84L577.09 76.34L578.23 73.88L579.37 71.47L580.51 69.09L581.65 66.76L582.79 64.47L583.92 62.23L585.06 60.03L586.2 57.87L587.34 55.75L588.48 53.68L589.62 51.65L590.76 49.66L591.9 47.71L593.04 45.81L594.18 43.95L595.32 42.14L596.46 40.36L597.6 38.63L598.74 36.95L599.88 35.3L601.02 33.7L602.16 32.15L603.3 30.64L604.44 29.17L605.58 27.75L606.71 26.37L607.85 25.04L608.99 23.75L610.13 22.5L611.27 21.3L612.41 20.15L613.55 19.04L614.69 17.98L615.83 16.96L616.97 15.98L618.11 15.05L619.25 14.17L620.39 13.33L621.53 12.54L622.67 11.79L623.81 11.09L624.95 10.43L626.09 9.82L627.23 9.25L628.37 8.73L629.5 8.25L630.64 7.82L631.78 7.44L632.92 7.1L634.06 6.8L635.2 6.55L636.34 6.35L637.48 6.19L638.62 6.08L639.76 6.01L640.9 5.99L642.04 6.01L643.18 6.08L644.32 6.19L645.46 6.35L646.6 6.55L647.74 6.8L648.88 7.1L650.02 7.44L651.16 7.82L652.29 8.25L653.43 8.73L654.57 9.25L655.71 9.82L656.85 10.43L657.99 11.09L659.13 11.79L660.27 12.54L661.41 13.33L662.55 14.17L663.69 15.05L664.83 15.98L665.97 16.96L667.11 17.98L668.25 19.04L669.39 20.15L670.53 21.3L671.67 22.5L672.81 23.75L673.95 25.04L675.09 26.37L676.22 27.75L677.36 29.17L678.5 30.64L679.64 32.15L680.78 33.7L681.92 35.3L683.06 36.95L684.2 38.63L685.34 40.36L686.48 42.14L687.62 43.95L688.76 45.81L689.9 47.71L691.04 49.66L692.18 51.65L693.32 53.68L694.46 55.75L695.6 57.87L696.74 60.03L697.88 62.23L699.01 64.47L700.15 66.76L701.29 69.09L702.43 71.47L703.57 73.88L704.71 76.34L705.85 78.84L706.99 81.38L708.13 83.97L709.27 86.59L710.41 89.25L711.55 91.95L712.69 94.68L713.83 97.45L714.97 100.25L716.11 103.09L717.25 105.95L718.39 108.85L719.53 111.77L720.66 114.71L721.8 117.68L722.94 120.66L724.08 123.66L725.22 126.67L726.36 129.68L727.5 132.7L728.64 135.71L729.78 138.71L730.92 141.7L732.06 144.68L733.2 147.62L734.34 150.54L735.48 153.43L736.62 156.27L737.76 159.08L738.9 161.83L740.04 164.54L741.18 167.19L742.32 169.79L743.45 172.34L744.59 174.84L745.73 177.29L746.87 179.69L748.01 182.05L749.15 184.36L750.29 186.64L751.43 188.88L752.57 191.09L753.71 193.27L754.85 195.43L755.99 197.57L757.13 199.69L758.27 201.8L759.41 203.89L760.55 205.97L761.69 208.05" fill="none" stroke="#3e7ec2" stroke-width="1.05"/>
<path d="M520.11 261.13L521.25 256.34L522.39 251.6L523.53 246.89L524.67 242.24L525.81 237.63L526.95 233.07L528.09 228.55L529.23 224.07L530.37 219.65L531.51 215.26L532.65 210.93L533.79 206.64L534.93 202.39L536.07 198.19L537.21 194.03L538.35 189.92L539.48 185.86L540.62 181.84L541.76 177.87L542.9 173.94L544.04 170.05L545.18 166.22L546.32 162.43L547.46 158.68L548.6 154.98L549.74 151.32L550.88 147.71L552.02 144.15L553.16 140.63L554.3 137.15L555.44 133.72L556.58 130.34L557.72 127L558.86 123.71L560 120.46L561.13 117.26L562.27 114.1L563.41 110.99L564.55 107.93L565.69 104.91L566.83 101.93L567.97 99L569.11 96.12L570.25 93.28L571.39 90.49L572.53 87.74L573.67 85.04L574.81 82.38L575.95 79.77L577.09 77.21L578.23 74.69L579.37 72.21L580.51 69.78L581.65 67.4L582.79 65.06L583.92 62.76L585.06 60.52L586.2 58.31L587.34 56.16L588.48 54.05L589.62 51.98L590.76 49.96L591.9 47.98L593.04 46.05L594.18 44.17L595.32 42.33L596.46 40.53L597.6 38.79L598.74 37.08L599.88 35.43L601.02 33.81L602.16 32.25L603.3 30.73L604.44 29.25L605.58 27.82L606.71 26.43L607.85 25.09L608.99 23.8L610.13 22.55L611.27 21.35L612.41 20.19L613.55 19.08L614.69 18.01L615.83 16.99L616.97 16.01L618.11 15.08L619.25 14.19L620.39 13.35L621.53 12.56L622.67 11.81L623.81 11.11L624.95 10.45L626.09 9.83L627.23 9.27L628.37 8.74L629.5 8.27L630.64 7.84L631.78 7.45L632.92 7.11L634.06 6.81L635.2 6.56L636.34 6.36L637.48 6.2L638.62 6.09L639.76 6.02L640.9 6L642.04 6.02L643.18 6.09L644.32 6.2L645.46 6.36L646.6 6.56L647.74 6.81L648.88 7.11L650.02 7.45L651.16 7.84L652.29 8.27L653.43 8.74L654.57 9.27L655.71 9.83L656.85 10.45L657.99 11.11L659.13 11.81L660.27 12.56L661.41 13.35L662.55 14.19L663.69 15.08L664.83 16.01L665.97 16.99L667.11 18.01L668.25 19.08L669.39 20.19L670.53 21.35L671.67 22.55L672.81 23.8L673.95 25.09L675.09 26.43L676.22 27.82L677.36 29.25L678.5 30.73L679.64 32.25L680.78 33.81L681.92 35.43L683.06 37.08L684.2 38.79L685.34 40.53L686.48 42.33L687.62 44.17L688.76 46.05L689.9 47.98L691.04 49.96L692.18 51.98L693.32 54.05L694.46 56.16L695.6 58.31L696.74 60.52L697.88 62.76L699.01 65.06L700.15 67.4L701.29 69.78L702.43 72.21L703.57 74.69L704.71 77.21L705.85 79.77L706.99 82.38L708.13 85.04L709.27 87.74L710.41 90.49L711.55 93.28L712.69 96.12L713.83 99L714.97 101.93L716.11 104.91L717.25 107.93L718.39 110.99L719.53 114.1L720.66 117.26L721.8 120.46L722.94 123.71L724.08 127L725.22 130.34L726.36 133.72L727.5 137.15L728.64 140.63L729.78 144.15L730.92 147.71L732.06 151.32L733.2 154.98L734.34 158.68L735.48 162.43L736.62 166.22L737.76 170.05L738.9 173.94L740.04 177.87L741.18 181.84L742.32 185.86L743.45 189.92L744.59 194.03L745.73 198.19L746.87 202.39L748.01 206.64L749.15 210.93L750.29 215.26L751.43 219.65L752.57 224.07L753.71 228.55L754.85 233.07L755.99 237.63L757.13 242.24L758.27 246.89L759.41 251.6L760.55 256.34L761.69 261.13" fill="none" stroke="#4aad45" stroke-width="1.05"/>
<path d="M520.11 286.51L521.25 281.24L522.39 276.01L523.53 270.83L524.67 265.7L525.81 260.62L526.95 255.59L528.09 250.61L529.23 245.68L530.37 240.8L531.51 235.98L532.65 231.2L533.79 226.47L534.93 221.79L536.07 217.16L537.21 212.58L538.35 208.05L539.48 203.58L540.62 199.15L541.76 194.77L542.9 190.44L544.04 186.16L545.18 181.93L546.32 177.76L547.46 173.63L548.6 169.55L549.74 165.52L550.88 161.54L552.02 157.62L553.16 153.74L554.3 149.91L555.44 146.13L556.58 142.4L557.72 138.73L558.86 135.1L560 131.52L561.13 127.99L562.27 124.52L563.41 121.09L564.55 117.71L565.69 114.38L566.83 111.11L567.97 107.88L569.11 104.7L570.25 101.57L571.39 98.5L572.53 95.47L573.67 92.49L574.81 89.56L575.95 86.69L577.09 83.86L578.23 81.08L579.37 78.36L580.51 75.68L581.65 73.05L582.79 70.47L583.92 67.95L585.06 65.47L586.2 63.04L587.34 60.67L588.48 58.34L589.62 56.06L590.76 53.84L591.9 51.66L593.04 49.53L594.18 47.46L595.32 45.43L596.46 43.45L597.6 41.53L598.74 39.65L599.88 37.82L601.02 36.05L602.16 34.32L603.3 32.65L604.44 31.02L605.58 29.44L606.71 27.92L607.85 26.44L608.99 25.01L610.13 23.64L611.27 22.31L612.41 21.04L613.55 19.81L614.69 18.63L615.83 17.51L616.97 16.43L618.11 15.41L619.25 14.43L620.39 13.51L621.53 12.63L622.67 11.8L623.81 11.03L624.95 10.3L626.09 9.63L627.23 9L628.37 8.43L629.5 7.9L630.64 7.43L631.78 7L632.92 6.63L634.06 6.3L635.2 6.02L636.34 5.8L637.48 5.62L638.62 5.5L639.76 5.42L640.9 5.4L642.04 5.42L643.18 5.5L644.32 5.62L645.46 5.8L646.6 6.02L647.74 6.3L648.88 6.63L650.02 7L651.16 7.43L652.29 7.9L653.43 8.43L654.57 9L655.71 9.63L656.85 10.3L657.99 11.03L659.13 11.8L660.27 12.63L661.41 13.51L662.55 14.43L663.69 15.41L664.83 16.43L665.97 17.51L667.11 18.63L668.25 19.81L669.39 21.04L670.53 22.31L671.67 23.64L672.81 25.01L673.95 26.44L675.09 27.92L676.22 29.44L677.36 31.02L678.5 32.65L679.64 34.32L680.78 36.05L681.92 37.82L683.06 39.65L684.2 41.53L685.34 43.45L686.48 45.43L687.62 47.46L688.76 49.53L689.9 51.66L691.04 53.84L692.18 56.06L693.32 58.34L694.46 60.67L695.6 63.04L696.74 65.47L697.88 67.95L699.01 70.47L700.15 73.05L701.29 75.68L702.43 78.36L703.57 81.08L704.71 83.86L705.85 86.69L706.99 89.56L708.13 92.49L709.27 95.47L710.41 98.5L711.55 101.57L712.69 104.7L713.83 107.88L714.97 111.11L716.11 114.38L717.25 117.71L718.39 121.09L719.53 124.52L720.66 127.99L721.8 131.52L722.94 135.1L724.08 138.73L725.22 142.4L726.36 146.13L727.5 149.91L728.64 153.74L729.78 157.62L730.92 161.54L732.06 165.52L733.2 169.55L734.34 173.63L735.48 177.76L736.62 181.93L737.76 186.16L738.9 190.44L740.04 194.77L741.18 199.15L742.32 203.58L743.45 208.05L744.59 212.58L745.73 217.16L746.87 221.79L748.01 226.47L749.15 231.2L750.29 235.98L751.43 240.8L752.57 245.68L753.71 250.61L754.85 255.59L755.99 260.62L757.13 265.7L758.27 270.83L759.41 276.01L760.55 281.24L761.69 286.51" fill="none" stroke="#777" stroke-width="0.85" stroke-dasharray="2.2 2.2"/>
</g>
<g stroke="#000" stroke-opacity="0.1" stroke-width="1" fill="none">
<rect x="522.4" y="0.5" width="237.0" height="147.1"/>
<path d="M522.39 147.6v-1.8M522.39 0.5v1.8M531.51 147.6v-1.8M531.51 0.5v1.8M540.62 147.6v-1.8M540.62 0.5v1.8M549.74 147.6v-3.2M549.74 0.5v3.2M558.86 147.6v-1.8M558.86 0.5v1.8M567.97 147.6v-1.8M567.97 0.5v1.8M577.09 147.6v-1.8M577.09 0.5v1.8M586.2 147.6v-1.8M586.2 0.5v1.8M595.32 147.6v-3.2M595.32 0.5v3.2M604.44 147.6v-1.8M604.44 0.5v1.8M613.55 147.6v-1.8M613.55 0.5v1.8M622.67 147.6v-1.8M622.67 0.5v1.8M631.78 147.6v-1.8M631.78 0.5v1.8M640.9 147.6v-3.2M640.9 0.5v3.2M650.02 147.6v-1.8M650.02 0.5v1.8M659.13 147.6v-1.8M659.13 0.5v1.8M668.25 147.6v-1.8M668.25 0.5v1.8M677.36 147.6v-1.8M677.36 0.5v1.8M686.48 147.6v-3.2M686.48 0.5v3.2M695.6 147.6v-1.8M695.6 0.5v1.8M704.71 147.6v-1.8M704.71 0.5v1.8M713.83 147.6v-1.8M713.83 0.5v1.8M722.94 147.6v-1.8M722.94 0.5v1.8M732.06 147.6v-3.2M732.06 0.5v3.2M741.18 147.6v-1.8M741.18 0.5v1.8M750.29 147.6v-1.8M750.29 0.5v1.8M759.41 147.6v-1.8M759.41 0.5v1.8M522.4 147.6h3.2M759.4 147.6h-3.2M522.4 139.05h1.8M759.4 139.05h-1.8M522.4 134.05h1.8M759.4 134.05h-1.8M522.4 130.5h1.8M759.4 130.5h-1.8M522.4 127.75h1.8M759.4 127.75h-1.8M522.4 125.5h1.8M759.4 125.5h-1.8M522.4 123.6h1.8M759.4 123.6h-1.8M522.4 121.95h1.8M759.4 121.95h-1.8M522.4 120.5h1.8M759.4 120.5h-1.8M522.4 119.2h3.2M759.4 119.2h-3.2M522.4 110.65h1.8M759.4 110.65h-1.8M522.4 105.65h1.8M759.4 105.65h-1.8M522.4 102.1h1.8M759.4 102.1h-1.8M522.4 99.35h1.8M759.4 99.35h-1.8M522.4 97.1h1.8M759.4 97.1h-1.8M522.4 95.2h1.8M759.4 95.2h-1.8M522.4 93.55h1.8M759.4 93.55h-1.8M522.4 92.1h1.8M759.4 92.1h-1.8M522.4 90.8h3.2M759.4 90.8h-3.2M522.4 82.25h1.8M759.4 82.25h-1.8M522.4 77.25h1.8M759.4 77.25h-1.8M522.4 73.7h1.8M759.4 73.7h-1.8M522.4 70.95h1.8M759.4 70.95h-1.8M522.4 68.7h1.8M759.4 68.7h-1.8M522.4 66.8h1.8M759.4 66.8h-1.8M522.4 65.15h1.8M759.4 65.15h-1.8M522.4 63.7h1.8M759.4 63.7h-1.8M522.4 62.4h3.2M759.4 62.4h-3.2M522.4 53.85h1.8M759.4 53.85h-1.8M522.4 48.85h1.8M759.4 48.85h-1.8M522.4 45.3h1.8M759.4 45.3h-1.8M522.4 42.55h1.8M759.4 42.55h-1.8M522.4 40.3h1.8M759.4 40.3h-1.8M522.4 38.4h1.8M759.4 38.4h-1.8M522.4 36.75h1.8M759.4 36.75h-1.8M522.4 35.3h1.8M759.4 35.3h-1.8M522.4 34h3.2M759.4 34h-3.2M522.4 25.45h1.8M759.4 25.45h-1.8M522.4 20.45h1.8M759.4 20.45h-1.8M522.4 16.9h1.8M759.4 16.9h-1.8M522.4 14.15h1.8M759.4 14.15h-1.8M522.4 11.9h1.8M759.4 11.9h-1.8M522.4 10h1.8M759.4 10h-1.8M522.4 8.35h1.8M759.4 8.35h-1.8M522.4 6.9h1.8M759.4 6.9h-1.8M522.4 5.6h3.2M759.4 5.6h-3.2" stroke-opacity="0.17" stroke-width="0.7"/>
</g>
<text x="549.74" y="158.8" font-size="9.3" text-anchor="middle">−20</text>
<text x="595.32" y="158.8" font-size="9.3" text-anchor="middle">−10</text>
<text x="640.9" y="158.8" font-size="9.3" text-anchor="middle">0</text>
<text x="686.48" y="158.8" font-size="9.3" text-anchor="middle">10</text>
<text x="732.06" y="158.8" font-size="9.3" text-anchor="middle">20</text>
<text x="641.1" y="175.1" font-size="9.8" word-spacing="-0.3" text-anchor="middle">Speed v<tspan font-size="6.2" dy="1.6">⊥2</tspan><tspan dy="-1.6"> (km</tspan><tspan dx="-0.35"> s</tspan><tspan font-size="7" dy="-4.5">-1</tspan><tspan dy="4.5">)</tspan></text>
<text x="42" y="151.8" font-size="9.3" text-anchor="end">10<tspan font-size="6" dy="-4.8">−6</tspan></text>
<text x="42" y="123.4" font-size="9.3" text-anchor="end">10<tspan font-size="6" dy="-4.8">−5</tspan></text>
<text x="42" y="95" font-size="9.3" text-anchor="end">10<tspan font-size="6" dy="-4.8">−4</tspan></text>
<text x="41.8" y="65.9" font-size="9.3" text-anchor="end">0.001</text>
<text x="41.8" y="37.5" font-size="9.3" text-anchor="end">0.010</text>
<text x="41.8" y="9.1" font-size="9.3" text-anchor="end">0.100</text>
<text transform="translate(9.8 74.45) rotate(-90)" font-size="9.8" word-spacing="-0.3" text-anchor="middle">PDF (km<tspan dx="-0.35"> s</tspan><tspan font-size="7" dy="-4.5">-1</tspan><tspan dy="4.5">)</tspan><tspan font-size="7" dy="-4.5">-1</tspan></text>
<text x="92.2" y="10.6" font-size="8" font-weight="bold" text-anchor="middle">Primary population</text>
<text x="92.2" y="22.5" font-size="7.95" text-anchor="middle">With angular</text>
<text x="92.2" y="34.3" font-size="7.95" text-anchor="middle">scattering</text>
<path d="M529.5 11.5h10" stroke="#e6262a" stroke-width="1.1" fill="none"/>
<text x="541.7" y="14.4" font-size="7.4">Results</text>
<path d="M529.5 24.5h10" stroke="#3e7ec2" stroke-width="1.1" fill="none"/>
<text x="541.7" y="26.7" font-size="7.4">Model</text>
<path d="M529.5 36.5h10" stroke="#4aad45" stroke-width="1.1" fill="none"/>
<text x="541.7" y="39" font-size="7.4">Maxwell</text>
<path d="M529.5 48.5h10" stroke="#777" stroke-width="1.1" fill="none" stroke-dasharray="2 2"/>
<text x="541.7" y="51.3" font-size="7.4">Pristine VLISM</text>
<g clip-path="url(#c10)">
<path d="M44.39 344.7L44.39 344.7L46.67 344.7L46.67 344.7L48.95 344.7L48.95 344.7L51.23 344.7L51.23 344.7L53.51 344.7L53.51 344.7L55.79 344.7L55.79 344.7L58.07 344.7L58.07 344.7L60.35 344.7L60.35 344.7L62.62 344.7L62.62 344.7L64.9 344.7L64.9 344.7L67.18 344.7L67.18 344.7L69.46 344.7L69.46 344.7L71.74 344.7L71.74 344.7L74.02 344.7L74.02 344.7L76.3 344.7L76.3 344.7L78.58 344.7L78.58 344.7L80.86 344.7L80.86 331.4L83.14 331.4L83.14 321.5L85.41 321.5L85.41 314.5L87.69 314.5L87.69 307.5L89.97 307.5L89.97 302.53L92.25 302.53L92.25 296.26L94.53 296.26L94.53 289.27L96.81 289.27L96.81 285.17L99.09 285.17L99.09 278.16L101.37 278.16L101.37 272.56L103.65 272.56L103.65 267.31L105.93 267.31L105.93 262.66L108.2 262.66L108.2 257.81L110.48 257.81L110.48 252.7L112.76 252.7L112.76 248.31L115.04 248.31L115.04 243.95L117.32 243.95L117.32 239.66L119.6 239.66L119.6 235.88L121.88 235.88L121.88 232.29L124.16 232.29L124.16 228.59L126.44 228.59L126.44 225.33L128.72 225.33L128.72 222.05L130.99 222.05L130.99 219.14L133.27 219.14L133.27 216.45L135.55 216.45L135.55 213.89L137.83 213.89L137.83 211.54L140.11 211.54L140.11 209.44L142.39 209.44L142.39 207.49L144.67 207.49L144.67 205.81L146.95 205.81L146.95 204.27L149.23 204.27L149.23 202.96L151.5 202.96L151.5 201.85L153.78 201.85L153.78 201L156.06 201L156.06 200.26L158.34 200.26L158.34 199.83L160.62 199.83L160.62 199.52L162.9 199.52L162.9 199.45L165.18 199.45L165.18 199.5L167.46 199.5L167.46 199.86L169.74 199.86L169.74 200.36L172.02 200.36L172.02 201.08L174.3 201.08L174.3 202.01L176.57 202.01L176.57 203.15L178.85 203.15L178.85 204.46L181.13 204.46L181.13 205.96L183.41 205.96L183.41 207.74L185.69 207.74L185.69 209.67L187.97 209.67L187.97 211.8L190.25 211.8L190.25 214.19L192.53 214.19L192.53 216.79L194.81 216.79L194.81 219.52L197.09 219.52L197.09 222.4L199.36 222.4L199.36 225.71L201.64 225.71L201.64 229.02L203.92 229.02L203.92 232.47L206.2 232.47L206.2 236.25L208.48 236.25L208.48 240.3L210.76 240.3L210.76 244.38L213.04 244.38L213.04 248.83L215.32 248.83L215.32 253.66L217.6 253.66L217.6 258.58L219.88 258.58L219.88 263.4L222.15 263.4L222.15 268.11L224.43 268.11L224.43 274.05L226.71 274.05L226.71 279.89L228.99 279.89L228.99 285.74L231.27 285.74L231.27 294.5L233.55 294.5L233.55 300.1L235.83 300.1L235.83 302.5L238.11 302.5L238.11 308.2L240.39 308.2L240.39 326.3L242.67 326.3L242.67 327.9L244.94 327.9L244.94 330.8L247.22 330.8L247.22 334L249.5 334L249.5 344.7L251.78 344.7L251.78 344.7L254.06 344.7L254.06 340.6L256.34 340.6L256.34 344.7L258.62 344.7L258.62 344.7L260.9 344.7L260.9 344.7L263.18 344.7L263.18 344.7L265.45 344.7L265.45 344.7L267.73 344.7L267.73 344.7L270.01 344.7L270.01 344.7L272.29 344.7L272.29 344.7L274.57 344.7L274.57 344.7L276.85 344.7L276.85 344.7L279.13 344.7L279.13 344.7L281.41 344.7L281.41 344.7Z" fill="#f8d0d0" stroke="#e6262a" stroke-width="1.05" stroke-linejoin="miter"/>
<path d="M162.9 199.81V341.7" stroke="#000" stroke-opacity="0.19" stroke-width="1.4" fill="none"/>
<path d="M42.11 487.67L43.25 482.29L44.39 476.95L45.53 471.67L46.67 466.43L47.81 461.25L48.95 456.11L50.09 451.03L51.23 446L52.37 441.02L53.51 436.09L54.65 431.21L55.79 426.38L56.93 421.61L58.07 416.88L59.21 412.2L60.35 407.58L61.48 403L62.62 398.48L63.76 394.01L64.9 389.59L66.04 385.22L67.18 380.9L68.32 376.63L69.46 372.41L70.6 368.24L71.74 364.12L72.88 360.06L74.02 356.04L75.16 352.08L76.3 348.17L77.44 344.3L78.58 340.49L79.72 336.73L80.86 333.02L82 329.36L83.14 325.75L84.27 322.19L85.41 318.69L86.55 315.23L87.69 311.82L88.83 308.47L89.97 305.17L91.11 301.91L92.25 298.71L93.39 295.56L94.53 292.46L95.67 289.41L96.81 286.41L97.95 283.46L99.09 280.56L100.23 277.72L101.37 274.92L102.51 272.18L103.65 269.48L104.79 266.84L105.93 264.25L107.06 261.71L108.2 259.22L109.34 256.78L110.48 254.39L111.62 252.05L112.76 249.76L113.9 247.52L115.04 245.34L116.18 243.2L117.32 241.12L118.46 239.08L119.6 237.1L120.74 235.17L121.88 233.29L123.02 231.46L124.16 229.68L125.3 227.95L126.44 226.27L127.58 224.65L128.72 223.07L129.85 221.54L130.99 220.07L132.13 218.65L133.27 217.27L134.41 215.95L135.55 214.68L136.69 213.46L137.83 212.29L138.97 211.17L140.11 210.1L141.25 209.09L142.39 208.12L143.53 207.2L144.67 206.34L145.81 205.52L146.95 204.76L148.09 204.05L149.23 203.39L150.37 202.78L151.5 202.22L152.64 201.71L153.78 201.25L154.92 200.84L156.06 200.48L157.2 200.18L158.34 199.92L159.48 199.72L160.62 199.57L161.76 199.46L162.9 199.41L164.04 199.41L165.18 199.46L166.32 199.56L167.46 199.71L168.6 199.91L169.74 200.17L170.88 200.47L172.02 200.83L173.16 201.23L174.3 201.69L175.43 202.19L176.57 202.75L177.71 203.36L178.85 204.02L179.99 204.73L181.13 205.49L182.27 206.3L183.41 207.17L184.55 208.08L185.69 209.05L186.83 210.06L187.97 211.13L189.11 212.24L190.25 213.41L191.39 214.63L192.53 215.9L193.67 217.22L194.81 218.59L195.95 220.01L197.09 221.48L198.22 223.01L199.36 224.58L200.5 226.21L201.64 227.88L202.78 229.61L203.92 231.39L205.06 233.21L206.2 235.09L207.34 237.02L208.48 239L209.62 241.04L210.76 243.12L211.9 245.25L213.04 247.44L214.18 249.67L215.32 251.96L216.46 254.29L217.6 256.68L218.74 259.12L219.88 261.61L221.01 264.15L222.15 266.74L223.29 269.38L224.43 272.07L225.57 274.81L226.71 277.61L227.85 280.45L228.99 283.35L230.13 286.29L231.27 289.29L232.41 292.34L233.55 295.43L234.69 298.58L235.83 301.78L236.97 305.03L238.11 308.34L239.25 311.69L240.39 315.09L241.53 318.55L242.67 322.05L243.8 325.61L244.94 329.21L246.08 332.87L247.22 336.58L248.36 340.34L249.5 344.15L250.64 348.01L251.78 351.92L252.92 355.88L254.06 359.9L255.2 363.96L256.34 368.08L257.48 372.24L258.62 376.46L259.76 380.72L260.9 385.04L262.04 389.41L263.18 393.83L264.32 398.3L265.45 402.82L266.59 407.39L267.73 412.02L268.87 416.69L270.01 421.42L271.15 426.19L272.29 431.02L273.43 435.89L274.57 440.82L275.71 445.8L276.85 450.83L277.99 455.91L279.13 461.04L280.27 466.22L281.41 471.46L282.55 476.74L283.69 482.07" fill="none" stroke="#3e7ec2" stroke-width="1.05"/>
<path d="M42.11 485.73L43.25 480.36L44.39 475.04L45.53 469.78L46.67 464.56L47.81 459.39L48.95 454.28L50.09 449.22L51.23 444.2L52.37 439.24L53.51 434.33L54.65 429.47L55.79 424.66L56.93 419.9L58.07 415.19L59.21 410.53L60.35 405.93L61.48 401.37L62.62 396.87L63.76 392.41L64.9 388.01L66.04 383.66L67.18 379.35L68.32 375.1L69.46 370.9L70.6 366.75L71.74 362.65L72.88 358.61L74.02 354.61L75.16 350.66L76.3 346.77L77.44 342.92L78.58 339.13L79.72 335.39L80.86 331.7L82 328.05L83.14 324.46L84.27 320.92L85.41 317.44L86.55 314L87.69 310.61L88.83 307.27L89.97 303.99L91.11 300.75L92.25 297.57L93.39 294.44L94.53 291.35L95.67 288.32L96.81 285.34L97.95 282.41L99.09 279.53L100.23 276.71L101.37 273.93L102.51 271.2L103.65 268.53L104.79 265.9L105.93 263.33L107.06 260.8L108.2 258.33L109.34 255.91L110.48 253.54L111.62 251.22L112.76 248.95L113.9 246.73L115.04 244.56L116.18 242.45L117.32 240.38L118.46 238.36L119.6 236.4L120.74 234.49L121.88 232.62L123.02 230.81L124.16 229.05L125.3 227.34L126.44 225.68L127.58 224.07L128.72 222.51L129.85 221.01L130.99 219.55L132.13 218.15L133.27 216.79L134.41 215.49L135.55 214.23L136.69 213.03L137.83 211.88L138.97 210.78L140.11 209.73L141.25 208.73L142.39 207.78L143.53 206.89L144.67 206.04L145.81 205.24L146.95 204.5L148.09 203.8L149.23 203.16L150.37 202.57L151.5 202.03L152.64 201.54L153.78 201.1L154.92 200.71L156.06 200.37L157.2 200.08L158.34 199.84L159.48 199.66L160.62 199.52L161.76 199.44L162.9 199.41L164.04 199.42L165.18 199.49L166.32 199.61L167.46 199.78L168.6 200L169.74 200.27L170.88 200.59L172.02 200.97L173.16 201.39L174.3 201.86L175.43 202.39L176.57 202.97L177.71 203.59L178.85 204.27L179.99 205L181.13 205.78L182.27 206.61L183.41 207.49L184.55 208.42L185.69 209.41L186.83 210.44L187.97 211.52L189.11 212.66L190.25 213.84L191.39 215.08L192.53 216.37L193.67 217.71L194.81 219.1L195.95 220.54L197.09 222.03L198.22 223.57L199.36 225.16L200.5 226.8L201.64 228.5L202.78 230.24L203.92 232.04L205.06 233.89L206.2 235.78L207.34 237.73L208.48 239.73L209.62 241.78L210.76 243.88L211.9 246.03L213.04 248.23L214.18 250.49L215.32 252.79L216.46 255.15L217.6 257.55L218.74 260.01L219.88 262.51L221.01 265.07L222.15 267.68L223.29 270.34L224.43 273.05L225.57 275.81L226.71 278.62L227.85 281.49L228.99 284.4L230.13 287.36L231.27 290.38L232.41 293.45L233.55 296.56L234.69 299.73L235.83 302.95L236.97 306.22L238.11 309.54L239.25 312.91L240.39 316.33L241.53 319.8L242.67 323.33L243.8 326.9L244.94 330.53L246.08 334.2L247.22 337.93L248.36 341.7L249.5 345.53L250.64 349.41L251.78 353.34L252.92 357.32L254.06 361.35L255.2 365.44L256.34 369.57L257.48 373.75L258.62 377.99L259.76 382.27L260.9 386.61L262.04 391L263.18 395.43L264.32 399.92L265.45 404.46L266.59 409.05L267.73 413.69L268.87 418.39L270.01 423.13L271.15 427.92L272.29 432.77L273.43 437.66L274.57 442.61L275.71 447.61L276.85 452.65L277.99 457.75L279.13 462.9L280.27 468.1L281.41 473.35L282.55 478.65L283.69 484.01" fill="none" stroke="#4aad45" stroke-width="1.05"/>
<path d="M42.11 485.73L43.25 480.36L44.39 475.04L45.53 469.78L46.67 464.56L47.81 459.39L48.95 454.28L50.09 449.22L51.23 444.2L52.37 439.24L53.51 434.33L54.65 429.47L55.79 424.66L56.93 419.9L58.07 415.19L59.21 410.53L60.35 405.93L61.48 401.37L62.62 396.87L63.76 392.41L64.9 388.01L66.04 383.66L67.18 379.35L68.32 375.1L69.46 370.9L70.6 366.75L71.74 362.65L72.88 358.61L74.02 354.61L75.16 350.66L76.3 346.77L77.44 342.92L78.58 339.13L79.72 335.39L80.86 331.7L82 328.05L83.14 324.46L84.27 320.92L85.41 317.44L86.55 314L87.69 310.61L88.83 307.27L89.97 303.99L91.11 300.75L92.25 297.57L93.39 294.44L94.53 291.35L95.67 288.32L96.81 285.34L97.95 282.41L99.09 279.53L100.23 276.71L101.37 273.93L102.51 271.2L103.65 268.53L104.79 265.9L105.93 263.33L107.06 260.8L108.2 258.33L109.34 255.91L110.48 253.54L111.62 251.22L112.76 248.95L113.9 246.73L115.04 244.56L116.18 242.45L117.32 240.38L118.46 238.36L119.6 236.4L120.74 234.49L121.88 232.62L123.02 230.81L124.16 229.05L125.3 227.34L126.44 225.68L127.58 224.07L128.72 222.51L129.85 221.01L130.99 219.55L132.13 218.15L133.27 216.79L134.41 215.49L135.55 214.23L136.69 213.03L137.83 211.88L138.97 210.78L140.11 209.73L141.25 208.73L142.39 207.78L143.53 206.89L144.67 206.04L145.81 205.24L146.95 204.5L148.09 203.8L149.23 203.16L150.37 202.57L151.5 202.03L152.64 201.54L153.78 201.1L154.92 200.71L156.06 200.37L157.2 200.08L158.34 199.84L159.48 199.66L160.62 199.52L161.76 199.44L162.9 199.41L164.04 199.42L165.18 199.49L166.32 199.61L167.46 199.78L168.6 200L169.74 200.27L170.88 200.59L172.02 200.97L173.16 201.39L174.3 201.86L175.43 202.39L176.57 202.97L177.71 203.59L178.85 204.27L179.99 205L181.13 205.78L182.27 206.61L183.41 207.49L184.55 208.42L185.69 209.41L186.83 210.44L187.97 211.52L189.11 212.66L190.25 213.84L191.39 215.08L192.53 216.37L193.67 217.71L194.81 219.1L195.95 220.54L197.09 222.03L198.22 223.57L199.36 225.16L200.5 226.8L201.64 228.5L202.78 230.24L203.92 232.04L205.06 233.89L206.2 235.78L207.34 237.73L208.48 239.73L209.62 241.78L210.76 243.88L211.9 246.03L213.04 248.23L214.18 250.49L215.32 252.79L216.46 255.15L217.6 257.55L218.74 260.01L219.88 262.51L221.01 265.07L222.15 267.68L223.29 270.34L224.43 273.05L225.57 275.81L226.71 278.62L227.85 281.49L228.99 284.4L230.13 287.36L231.27 290.38L232.41 293.45L233.55 296.56L234.69 299.73L235.83 302.95L236.97 306.22L238.11 309.54L239.25 312.91L240.39 316.33L241.53 319.8L242.67 323.33L243.8 326.9L244.94 330.53L246.08 334.2L247.22 337.93L248.36 341.7L249.5 345.53L250.64 349.41L251.78 353.34L252.92 357.32L254.06 361.35L255.2 365.44L256.34 369.57L257.48 373.75L258.62 377.99L259.76 382.27L260.9 386.61L262.04 391L263.18 395.43L264.32 399.92L265.45 404.46L266.59 409.05L267.73 413.69L268.87 418.39L270.01 423.13L271.15 427.92L272.29 432.77L273.43 437.66L274.57 442.61L275.71 447.61L276.85 452.65L277.99 457.75L279.13 462.9L280.27 468.1L281.41 473.35L282.55 478.65L283.69 484.01" fill="none" stroke="#777" stroke-width="0.85" stroke-dasharray="2.2 2.2"/>
</g>
<g stroke="#000" stroke-opacity="0.1" stroke-width="1" fill="none">
<rect x="44.4" y="194.5" width="237.0" height="147.2"/>
<path d="M44.39 341.7v-1.8M44.39 194.5v1.8M53.51 341.7v-1.8M53.51 194.5v1.8M62.62 341.7v-1.8M62.62 194.5v1.8M71.74 341.7v-3.2M71.74 194.5v3.2M80.86 341.7v-1.8M80.86 194.5v1.8M89.97 341.7v-1.8M89.97 194.5v1.8M99.09 341.7v-1.8M99.09 194.5v1.8M108.2 341.7v-1.8M108.2 194.5v1.8M117.32 341.7v-3.2M117.32 194.5v3.2M126.44 341.7v-1.8M126.44 194.5v1.8M135.55 341.7v-1.8M135.55 194.5v1.8M144.67 341.7v-1.8M144.67 194.5v1.8M153.78 341.7v-1.8M153.78 194.5v1.8M162.9 341.7v-3.2M162.9 194.5v3.2M172.02 341.7v-1.8M172.02 194.5v1.8M181.13 341.7v-1.8M181.13 194.5v1.8M190.25 341.7v-1.8M190.25 194.5v1.8M199.36 341.7v-1.8M199.36 194.5v1.8M208.48 341.7v-3.2M208.48 194.5v3.2M217.6 341.7v-1.8M217.6 194.5v1.8M226.71 341.7v-1.8M226.71 194.5v1.8M235.83 341.7v-1.8M235.83 194.5v1.8M244.94 341.7v-1.8M244.94 194.5v1.8M254.06 341.7v-3.2M254.06 194.5v3.2M263.18 341.7v-1.8M263.18 194.5v1.8M272.29 341.7v-1.8M272.29 194.5v1.8M281.41 341.7v-1.8M281.41 194.5v1.8M44.4 341.7h3.2M281.4 341.7h-3.2M44.4 333.15h1.8M281.4 333.15h-1.8M44.4 328.15h1.8M281.4 328.15h-1.8M44.4 324.6h1.8M281.4 324.6h-1.8M44.4 321.85h1.8M281.4 321.85h-1.8M44.4 319.6h1.8M281.4 319.6h-1.8M44.4 317.7h1.8M281.4 317.7h-1.8M44.4 316.05h1.8M281.4 316.05h-1.8M44.4 314.6h1.8M281.4 314.6h-1.8M44.4 313.3h3.2M281.4 313.3h-3.2M44.4 304.75h1.8M281.4 304.75h-1.8M44.4 299.75h1.8M281.4 299.75h-1.8M44.4 296.2h1.8M281.4 296.2h-1.8M44.4 293.45h1.8M281.4 293.45h-1.8M44.4 291.2h1.8M281.4 291.2h-1.8M44.4 289.3h1.8M281.4 289.3h-1.8M44.4 287.65h1.8M281.4 287.65h-1.8M44.4 286.2h1.8M281.4 286.2h-1.8M44.4 284.9h3.2M281.4 284.9h-3.2M44.4 276.35h1.8M281.4 276.35h-1.8M44.4 271.35h1.8M281.4 271.35h-1.8M44.4 267.8h1.8M281.4 267.8h-1.8M44.4 265.05h1.8M281.4 265.05h-1.8M44.4 262.8h1.8M281.4 262.8h-1.8M44.4 260.9h1.8M281.4 260.9h-1.8M44.4 259.25h1.8M281.4 259.25h-1.8M44.4 257.8h1.8M281.4 257.8h-1.8M44.4 256.5h3.2M281.4 256.5h-3.2M44.4 247.95h1.8M281.4 247.95h-1.8M44.4 242.95h1.8M281.4 242.95h-1.8M44.4 239.4h1.8M281.4 239.4h-1.8M44.4 236.65h1.8M281.4 236.65h-1.8M44.4 234.4h1.8M281.4 234.4h-1.8M44.4 232.5h1.8M281.4 232.5h-1.8M44.4 230.85h1.8M281.4 230.85h-1.8M44.4 229.4h1.8M281.4 229.4h-1.8M44.4 228.1h3.2M281.4 228.1h-3.2M44.4 219.55h1.8M281.4 219.55h-1.8M44.4 214.55h1.8M281.4 214.55h-1.8M44.4 211h1.8M281.4 211h-1.8M44.4 208.25h1.8M281.4 208.25h-1.8M44.4 206h1.8M281.4 206h-1.8M44.4 204.1h1.8M281.4 204.1h-1.8M44.4 202.45h1.8M281.4 202.45h-1.8M44.4 201h1.8M281.4 201h-1.8M44.4 199.7h3.2M281.4 199.7h-3.2" stroke-opacity="0.17" stroke-width="0.7"/>
</g>
<text x="71.74" y="352.9" font-size="9.3" text-anchor="middle">−20</text>
<text x="117.32" y="352.9" font-size="9.3" text-anchor="middle">−10</text>
<text x="162.9" y="352.9" font-size="9.3" text-anchor="middle">0</text>
<text x="208.48" y="352.9" font-size="9.3" text-anchor="middle">10</text>
<text x="254.06" y="352.9" font-size="9.3" text-anchor="middle">20</text>
<text x="163.1" y="369.2" font-size="9.8" word-spacing="-0.3" text-anchor="middle">Speed v<tspan font-size="5.8" dy="1.6">∥</tspan><tspan dy="-1.6"> (km</tspan><tspan dx="-0.35"> s</tspan><tspan font-size="7" dy="-4.5">-1</tspan><tspan dy="4.5">)</tspan></text>
<g clip-path="url(#c11)">
<path d="M283.39 344.7L283.39 344.7L285.67 344.7L285.67 344.7L287.95 344.7L287.95 344.7L290.23 344.7L290.23 344.7L292.51 344.7L292.51 344.7L294.79 344.7L294.79 344.7L297.07 344.7L297.07 344.7L299.34 344.7L299.34 344.7L301.62 344.7L301.62 344.7L303.9 344.7L303.9 344.7L306.18 344.7L306.18 344.7L308.46 344.7L308.46 339.8L310.74 339.8L310.74 344.7L313.02 344.7L313.02 344.7L315.3 344.7L315.3 344.7L317.58 344.7L317.58 344.7L319.86 344.7L319.86 313.8L322.13 313.8L322.13 322L324.41 322L324.41 312.2L326.69 312.2L326.69 300.1L328.97 300.1L328.97 299L331.25 299L331.25 290.47L333.53 290.47L333.53 284.44L335.81 284.44L335.81 279.76L338.09 279.76L338.09 274.28L340.37 274.28L340.37 268.11L342.65 268.11L342.65 264.13L344.92 264.13L344.92 258.61L347.2 258.61L347.2 253.54L349.48 253.54L349.48 249.6L351.76 249.6L351.76 245.04L354.04 245.04L354.04 240.78L356.32 240.78L356.32 237.06L358.6 237.06L358.6 233.26L360.88 233.26L360.88 229.7L363.16 229.7L363.16 226.47L365.44 226.47L365.44 223.27L367.71 223.27L367.71 220.29L369.99 220.29L369.99 217.51L372.27 217.51L372.27 214.99L374.55 214.99L374.55 212.63L376.83 212.63L376.83 210.49L379.11 210.49L379.11 208.5L381.39 208.5L381.39 206.69L383.67 206.69L383.67 205.14L385.95 205.14L385.95 203.78L388.23 203.78L388.23 202.6L390.5 202.6L390.5 201.53L392.78 201.53L392.78 200.78L395.06 200.78L395.06 200.2L397.34 200.2L397.34 199.87L399.62 199.87L399.62 199.61L401.9 199.61L401.9 199.61L404.18 199.61L404.18 199.78L406.46 199.78L406.46 200.2L408.74 200.2L408.74 200.81L411.02 200.81L411.02 201.58L413.29 201.58L413.29 202.62L415.57 202.62L415.57 203.73L417.85 203.73L417.85 205.13L420.13 205.13L420.13 206.73L422.41 206.73L422.41 208.45L424.69 208.45L424.69 210.4L426.97 210.4L426.97 212.67L429.25 212.67L429.25 215.01L431.53 215.01L431.53 217.54L433.81 217.54L433.81 220.3L436.08 220.3L436.08 223.28L438.36 223.28L438.36 226.47L440.64 226.47L440.64 229.61L442.92 229.61L442.92 233.22L445.2 233.22L445.2 237.15L447.48 237.15L447.48 241.11L449.76 241.11L449.76 244.86L452.04 244.86L452.04 249.22L454.32 249.22L454.32 253.5L456.6 253.5L456.6 258.25L458.88 258.25L458.88 263.36L461.15 263.36L461.15 267.79L463.43 267.79L463.43 273.51L465.71 273.51L465.71 277.89L467.99 277.89L467.99 282.64L470.27 282.64L470.27 287.61L472.55 287.61L472.55 302L474.83 302L474.83 308.2L477.11 308.2L477.11 308.2L479.39 308.2L479.39 323.5L481.66 323.5L481.66 327.5L483.94 327.5L483.94 333L486.22 333L486.22 333.2L488.5 333.2L488.5 344.7L490.78 344.7L490.78 344.7L493.06 344.7L493.06 344.7L495.34 344.7L495.34 344.7L497.62 344.7L497.62 344.7L499.9 344.7L499.9 344.7L502.18 344.7L502.18 344.7L504.45 344.7L504.45 344.7L506.73 344.7L506.73 344.7L509.01 344.7L509.01 344.7L511.29 344.7L511.29 344.7L513.57 344.7L513.57 344.7L515.85 344.7L515.85 344.7L518.13 344.7L518.13 344.7L520.41 344.7L520.41 344.7Z" fill="#f8d0d0" stroke="#e6262a" stroke-width="1.05" stroke-linejoin="miter"/>
<path d="M401.9 199.9V341.7" stroke="#000" stroke-opacity="0.19" stroke-width="1.4" fill="none"/>
<path d="M281.11 480.57L282.25 475.31L283.39 470.08L284.53 464.91L285.67 459.79L286.81 454.71L287.95 449.68L289.09 444.71L290.23 439.78L291.37 434.9L292.51 430.07L293.65 425.3L294.79 420.57L295.93 415.89L297.07 411.26L298.21 406.68L299.34 402.15L300.48 397.68L301.62 393.25L302.76 388.87L303.9 384.54L305.04 380.26L306.18 376.03L307.32 371.86L308.46 367.73L309.6 363.65L310.74 359.62L311.88 355.64L313.02 351.72L314.16 347.84L315.3 344.01L316.44 340.23L317.58 336.5L318.72 332.83L319.86 329.2L321 325.62L322.13 322.09L323.27 318.62L324.41 315.19L325.55 311.81L326.69 308.48L327.83 305.21L328.97 301.98L330.11 298.8L331.25 295.67L332.39 292.6L333.53 289.57L334.67 286.59L335.81 283.66L336.95 280.79L338.09 277.96L339.23 275.18L340.37 272.46L341.51 269.78L342.65 267.15L343.79 264.57L344.92 262.05L346.06 259.57L347.2 257.14L348.34 254.77L349.48 252.44L350.62 250.16L351.76 247.94L352.9 245.76L354.04 243.63L355.18 241.56L356.32 239.53L357.46 237.55L358.6 235.63L359.74 233.75L360.88 231.92L362.02 230.15L363.16 228.42L364.3 226.75L365.44 225.12L366.58 223.54L367.71 222.02L368.85 220.54L369.99 219.11L371.13 217.74L372.27 216.41L373.41 215.14L374.55 213.91L375.69 212.73L376.83 211.61L377.97 210.53L379.11 209.51L380.25 208.53L381.39 207.61L382.53 206.73L383.67 205.9L384.81 205.13L385.95 204.4L387.09 203.73L388.23 203.1L389.37 202.53L390.5 202L391.64 201.53L392.78 201.1L393.92 200.73L395.06 200.4L396.2 200.12L397.34 199.9L398.48 199.72L399.62 199.6L400.76 199.52L401.9 199.5L403.04 199.52L404.18 199.6L405.32 199.72L406.46 199.9L407.6 200.12L408.74 200.4L409.88 200.73L411.02 201.1L412.16 201.53L413.29 202L414.43 202.53L415.57 203.1L416.71 203.73L417.85 204.4L418.99 205.13L420.13 205.9L421.27 206.73L422.41 207.61L423.55 208.53L424.69 209.51L425.83 210.53L426.97 211.61L428.11 212.73L429.25 213.91L430.39 215.14L431.53 216.41L432.67 217.74L433.81 219.11L434.95 220.54L436.08 222.02L437.22 223.54L438.36 225.12L439.5 226.74L440.64 228.42L441.78 230.14L442.92 231.92L444.06 233.74L445.2 235.62L446.34 237.54L447.48 239.51L448.62 241.53L449.76 243.6L450.9 245.71L452.04 247.87L453.18 250.07L454.32 252.32L455.46 254.6L456.6 256.92L457.74 259.26L458.88 261.63L460.01 264.02L461.15 266.41L462.29 268.81L463.43 271.22L464.57 273.63L465.71 276.05L466.85 278.52L467.99 281.04L469.13 283.63L470.27 286.29L471.41 289.04L472.55 291.87L473.69 294.78L474.83 297.75L475.97 300.77L477.11 303.85L478.25 306.97L479.39 310.13L480.53 313.32L481.66 316.54L482.8 319.79L483.94 323.07L485.08 326.36L486.22 329.68L487.36 333L488.5 336.34L489.64 339.69L490.78 343.04L491.92 346.39L493.06 349.73L494.2 353.08L495.34 356.41L496.48 359.73L497.62 363.03L498.76 366.32L499.9 369.59L501.04 372.83L502.18 376.05L503.32 379.24L504.45 382.41L505.59 385.55L506.73 388.66L507.87 391.74L509.01 394.8L510.15 397.84L511.29 400.85L512.43 403.83L513.57 406.8L514.71 409.75L515.85 412.67L516.99 415.59L518.13 418.49L519.27 421.37L520.41 424.25L521.55 427.11L522.69 429.97" fill="none" stroke="#3e7ec2" stroke-width="1.05"/>
<path d="M281.11 480.61L282.25 475.34L283.39 470.11L284.53 464.93L285.67 459.8L286.81 454.72L287.95 449.69L289.09 444.71L290.23 439.78L291.37 434.9L292.51 430.08L293.65 425.3L294.79 420.57L295.93 415.89L297.07 411.26L298.21 406.68L299.34 402.15L300.48 397.68L301.62 393.25L302.76 388.87L303.9 384.54L305.04 380.26L306.18 376.03L307.32 371.86L308.46 367.73L309.6 363.65L310.74 359.62L311.88 355.64L313.02 351.72L314.16 347.84L315.3 344.01L316.44 340.23L317.58 336.5L318.72 332.83L319.86 329.2L321 325.62L322.13 322.09L323.27 318.62L324.41 315.19L325.55 311.81L326.69 308.48L327.83 305.21L328.97 301.98L330.11 298.8L331.25 295.67L332.39 292.6L333.53 289.57L334.67 286.59L335.81 283.66L336.95 280.79L338.09 277.96L339.23 275.18L340.37 272.46L341.51 269.78L342.65 267.15L343.79 264.57L344.92 262.05L346.06 259.57L347.2 257.14L348.34 254.77L349.48 252.44L350.62 250.16L351.76 247.94L352.9 245.76L354.04 243.63L355.18 241.56L356.32 239.53L357.46 237.55L358.6 235.63L359.74 233.75L360.88 231.92L362.02 230.15L363.16 228.42L364.3 226.75L365.44 225.12L366.58 223.54L367.71 222.02L368.85 220.54L369.99 219.11L371.13 217.74L372.27 216.41L373.41 215.14L374.55 213.91L375.69 212.73L376.83 211.61L377.97 210.53L379.11 209.51L380.25 208.53L381.39 207.61L382.53 206.73L383.67 205.9L384.81 205.13L385.95 204.4L387.09 203.73L388.23 203.1L389.37 202.53L390.5 202L391.64 201.53L392.78 201.1L393.92 200.73L395.06 200.4L396.2 200.12L397.34 199.9L398.48 199.72L399.62 199.6L400.76 199.52L401.9 199.5L403.04 199.52L404.18 199.6L405.32 199.72L406.46 199.9L407.6 200.12L408.74 200.4L409.88 200.73L411.02 201.1L412.16 201.53L413.29 202L414.43 202.53L415.57 203.1L416.71 203.73L417.85 204.4L418.99 205.13L420.13 205.9L421.27 206.73L422.41 207.61L423.55 208.53L424.69 209.51L425.83 210.53L426.97 211.61L428.11 212.73L429.25 213.91L430.39 215.14L431.53 216.41L432.67 217.74L433.81 219.11L434.95 220.54L436.08 222.02L437.22 223.54L438.36 225.12L439.5 226.75L440.64 228.42L441.78 230.15L442.92 231.92L444.06 233.75L445.2 235.63L446.34 237.55L447.48 239.53L448.62 241.56L449.76 243.63L450.9 245.76L452.04 247.94L453.18 250.16L454.32 252.44L455.46 254.77L456.6 257.14L457.74 259.57L458.88 262.05L460.01 264.57L461.15 267.15L462.29 269.78L463.43 272.46L464.57 275.18L465.71 277.96L466.85 280.79L467.99 283.66L469.13 286.59L470.27 289.57L471.41 292.6L472.55 295.67L473.69 298.8L474.83 301.98L475.97 305.21L477.11 308.48L478.25 311.81L479.39 315.19L480.53 318.62L481.66 322.09L482.8 325.62L483.94 329.2L485.08 332.83L486.22 336.5L487.36 340.23L488.5 344.01L489.64 347.84L490.78 351.72L491.92 355.64L493.06 359.62L494.2 363.65L495.34 367.73L496.48 371.86L497.62 376.03L498.76 380.26L499.9 384.54L501.04 388.87L502.18 393.25L503.32 397.68L504.45 402.15L505.59 406.68L506.73 411.26L507.87 415.89L509.01 420.57L510.15 425.3L511.29 430.08L512.43 434.9L513.57 439.78L514.71 444.71L515.85 449.69L516.99 454.72L518.13 459.8L519.27 464.93L520.41 470.11L521.55 475.34L522.69 480.61" fill="none" stroke="#4aad45" stroke-width="1.05"/>
<path d="M281.11 480.61L282.25 475.34L283.39 470.11L284.53 464.93L285.67 459.8L286.81 454.72L287.95 449.69L289.09 444.71L290.23 439.78L291.37 434.9L292.51 430.08L293.65 425.3L294.79 420.57L295.93 415.89L297.07 411.26L298.21 406.68L299.34 402.15L300.48 397.68L301.62 393.25L302.76 388.87L303.9 384.54L305.04 380.26L306.18 376.03L307.32 371.86L308.46 367.73L309.6 363.65L310.74 359.62L311.88 355.64L313.02 351.72L314.16 347.84L315.3 344.01L316.44 340.23L317.58 336.5L318.72 332.83L319.86 329.2L321 325.62L322.13 322.09L323.27 318.62L324.41 315.19L325.55 311.81L326.69 308.48L327.83 305.21L328.97 301.98L330.11 298.8L331.25 295.67L332.39 292.6L333.53 289.57L334.67 286.59L335.81 283.66L336.95 280.79L338.09 277.96L339.23 275.18L340.37 272.46L341.51 269.78L342.65 267.15L343.79 264.57L344.92 262.05L346.06 259.57L347.2 257.14L348.34 254.77L349.48 252.44L350.62 250.16L351.76 247.94L352.9 245.76L354.04 243.63L355.18 241.56L356.32 239.53L357.46 237.55L358.6 235.63L359.74 233.75L360.88 231.92L362.02 230.15L363.16 228.42L364.3 226.75L365.44 225.12L366.58 223.54L367.71 222.02L368.85 220.54L369.99 219.11L371.13 217.74L372.27 216.41L373.41 215.14L374.55 213.91L375.69 212.73L376.83 211.61L377.97 210.53L379.11 209.51L380.25 208.53L381.39 207.61L382.53 206.73L383.67 205.9L384.81 205.13L385.95 204.4L387.09 203.73L388.23 203.1L389.37 202.53L390.5 202L391.64 201.53L392.78 201.1L393.92 200.73L395.06 200.4L396.2 200.12L397.34 199.9L398.48 199.72L399.62 199.6L400.76 199.52L401.9 199.5L403.04 199.52L404.18 199.6L405.32 199.72L406.46 199.9L407.6 200.12L408.74 200.4L409.88 200.73L411.02 201.1L412.16 201.53L413.29 202L414.43 202.53L415.57 203.1L416.71 203.73L417.85 204.4L418.99 205.13L420.13 205.9L421.27 206.73L422.41 207.61L423.55 208.53L424.69 209.51L425.83 210.53L426.97 211.61L428.11 212.73L429.25 213.91L430.39 215.14L431.53 216.41L432.67 217.74L433.81 219.11L434.95 220.54L436.08 222.02L437.22 223.54L438.36 225.12L439.5 226.75L440.64 228.42L441.78 230.15L442.92 231.92L444.06 233.75L445.2 235.63L446.34 237.55L447.48 239.53L448.62 241.56L449.76 243.63L450.9 245.76L452.04 247.94L453.18 250.16L454.32 252.44L455.46 254.77L456.6 257.14L457.74 259.57L458.88 262.05L460.01 264.57L461.15 267.15L462.29 269.78L463.43 272.46L464.57 275.18L465.71 277.96L466.85 280.79L467.99 283.66L469.13 286.59L470.27 289.57L471.41 292.6L472.55 295.67L473.69 298.8L474.83 301.98L475.97 305.21L477.11 308.48L478.25 311.81L479.39 315.19L480.53 318.62L481.66 322.09L482.8 325.62L483.94 329.2L485.08 332.83L486.22 336.5L487.36 340.23L488.5 344.01L489.64 347.84L490.78 351.72L491.92 355.64L493.06 359.62L494.2 363.65L495.34 367.73L496.48 371.86L497.62 376.03L498.76 380.26L499.9 384.54L501.04 388.87L502.18 393.25L503.32 397.68L504.45 402.15L505.59 406.68L506.73 411.26L507.87 415.89L509.01 420.57L510.15 425.3L511.29 430.08L512.43 434.9L513.57 439.78L514.71 444.71L515.85 449.69L516.99 454.72L518.13 459.8L519.27 464.93L520.41 470.11L521.55 475.34L522.69 480.61" fill="none" stroke="#777" stroke-width="0.85" stroke-dasharray="2.2 2.2"/>
</g>
<g stroke="#000" stroke-opacity="0.1" stroke-width="1" fill="none">
<rect x="283.4" y="194.5" width="237.0" height="147.2"/>
<path d="M283.39 341.7v-1.8M283.39 194.5v1.8M292.51 341.7v-1.8M292.51 194.5v1.8M301.62 341.7v-1.8M301.62 194.5v1.8M310.74 341.7v-3.2M310.74 194.5v3.2M319.86 341.7v-1.8M319.86 194.5v1.8M328.97 341.7v-1.8M328.97 194.5v1.8M338.09 341.7v-1.8M338.09 194.5v1.8M347.2 341.7v-1.8M347.2 194.5v1.8M356.32 341.7v-3.2M356.32 194.5v3.2M365.44 341.7v-1.8M365.44 194.5v1.8M374.55 341.7v-1.8M374.55 194.5v1.8M383.67 341.7v-1.8M383.67 194.5v1.8M392.78 341.7v-1.8M392.78 194.5v1.8M401.9 341.7v-3.2M401.9 194.5v3.2M411.02 341.7v-1.8M411.02 194.5v1.8M420.13 341.7v-1.8M420.13 194.5v1.8M429.25 341.7v-1.8M429.25 194.5v1.8M438.36 341.7v-1.8M438.36 194.5v1.8M447.48 341.7v-3.2M447.48 194.5v3.2M456.6 341.7v-1.8M456.6 194.5v1.8M465.71 341.7v-1.8M465.71 194.5v1.8M474.83 341.7v-1.8M474.83 194.5v1.8M483.94 341.7v-1.8M483.94 194.5v1.8M493.06 341.7v-3.2M493.06 194.5v3.2M502.18 341.7v-1.8M502.18 194.5v1.8M511.29 341.7v-1.8M511.29 194.5v1.8M520.41 341.7v-1.8M520.41 194.5v1.8M283.4 341.7h3.2M520.4 341.7h-3.2M283.4 333.15h1.8M520.4 333.15h-1.8M283.4 328.15h1.8M520.4 328.15h-1.8M283.4 324.6h1.8M520.4 324.6h-1.8M283.4 321.85h1.8M520.4 321.85h-1.8M283.4 319.6h1.8M520.4 319.6h-1.8M283.4 317.7h1.8M520.4 317.7h-1.8M283.4 316.05h1.8M520.4 316.05h-1.8M283.4 314.6h1.8M520.4 314.6h-1.8M283.4 313.3h3.2M520.4 313.3h-3.2M283.4 304.75h1.8M520.4 304.75h-1.8M283.4 299.75h1.8M520.4 299.75h-1.8M283.4 296.2h1.8M520.4 296.2h-1.8M283.4 293.45h1.8M520.4 293.45h-1.8M283.4 291.2h1.8M520.4 291.2h-1.8M283.4 289.3h1.8M520.4 289.3h-1.8M283.4 287.65h1.8M520.4 287.65h-1.8M283.4 286.2h1.8M520.4 286.2h-1.8M283.4 284.9h3.2M520.4 284.9h-3.2M283.4 276.35h1.8M520.4 276.35h-1.8M283.4 271.35h1.8M520.4 271.35h-1.8M283.4 267.8h1.8M520.4 267.8h-1.8M283.4 265.05h1.8M520.4 265.05h-1.8M283.4 262.8h1.8M520.4 262.8h-1.8M283.4 260.9h1.8M520.4 260.9h-1.8M283.4 259.25h1.8M520.4 259.25h-1.8M283.4 257.8h1.8M520.4 257.8h-1.8M283.4 256.5h3.2M520.4 256.5h-3.2M283.4 247.95h1.8M520.4 247.95h-1.8M283.4 242.95h1.8M520.4 242.95h-1.8M283.4 239.4h1.8M520.4 239.4h-1.8M283.4 236.65h1.8M520.4 236.65h-1.8M283.4 234.4h1.8M520.4 234.4h-1.8M283.4 232.5h1.8M520.4 232.5h-1.8M283.4 230.85h1.8M520.4 230.85h-1.8M283.4 229.4h1.8M520.4 229.4h-1.8M283.4 228.1h3.2M520.4 228.1h-3.2M283.4 219.55h1.8M520.4 219.55h-1.8M283.4 214.55h1.8M520.4 214.55h-1.8M283.4 211h1.8M520.4 211h-1.8M283.4 208.25h1.8M520.4 208.25h-1.8M283.4 206h1.8M520.4 206h-1.8M283.4 204.1h1.8M520.4 204.1h-1.8M283.4 202.45h1.8M520.4 202.45h-1.8M283.4 201h1.8M520.4 201h-1.8M283.4 199.7h3.2M520.4 199.7h-3.2" stroke-opacity="0.17" stroke-width="0.7"/>
</g>
<text x="310.74" y="352.9" font-size="9.3" text-anchor="middle">−20</text>
<text x="356.32" y="352.9" font-size="9.3" text-anchor="middle">−10</text>
<text x="401.9" y="352.9" font-size="9.3" text-anchor="middle">0</text>
<text x="447.48" y="352.9" font-size="9.3" text-anchor="middle">10</text>
<text x="493.06" y="352.9" font-size="9.3" text-anchor="middle">20</text>
<text x="402.1" y="369.2" font-size="9.8" word-spacing="-0.3" text-anchor="middle">Speed v<tspan font-size="6.2" dy="1.6">⊥1</tspan><tspan dy="-1.6"> (km</tspan><tspan dx="-0.35"> s</tspan><tspan font-size="7" dy="-4.5">-1</tspan><tspan dy="4.5">)</tspan></text>
<g clip-path="url(#c12)">
<path d="M522.39 344.7L522.39 344.7L524.67 344.7L524.67 344.7L526.95 344.7L526.95 344.7L529.23 344.7L529.23 344.7L531.51 344.7L531.51 344.7L533.79 344.7L533.79 344.7L536.07 344.7L536.07 344.7L538.35 344.7L538.35 344.7L540.62 344.7L540.62 344.7L542.9 344.7L542.9 344.7L545.18 344.7L545.18 344.7L547.46 344.7L547.46 344.7L549.74 344.7L549.74 333.2L552.02 333.2L552.02 337.2L554.3 337.2L554.3 338L556.58 338L556.58 332.4L558.86 332.4L558.86 323.5L561.13 323.5L561.13 320.3L563.41 320.3L563.41 306.6L565.69 306.6L565.69 307L567.97 307L567.97 298.73L570.25 298.73L570.25 293.43L572.53 293.43L572.53 286.07L574.81 286.07L574.81 281.39L577.09 281.39L577.09 276.34L579.37 276.34L579.37 270.15L581.65 270.15L581.65 264.12L583.92 264.12L583.92 259.66L586.2 259.66L586.2 255.03L588.48 255.03L588.48 250.29L590.76 250.29L590.76 245.69L593.04 245.69L593.04 241.5L595.32 241.5L595.32 237.54L597.6 237.54L597.6 233.63L599.88 233.63L599.88 230.1L602.16 230.1L602.16 226.75L604.44 226.75L604.44 223.51L606.71 223.51L606.71 220.46L608.99 220.46L608.99 217.7L611.27 217.7L611.27 215.1L613.55 215.1L613.55 212.77L615.83 212.77L615.83 210.54L618.11 210.54L618.11 208.51L620.39 208.51L620.39 206.74L622.67 206.74L622.67 205.1L624.95 205.1L624.95 203.71L627.23 203.71L627.23 202.51L629.5 202.51L629.5 201.53L631.78 201.53L631.78 200.67L634.06 200.67L634.06 200.1L636.34 200.1L636.34 199.73L638.62 199.73L638.62 199.52L640.9 199.52L640.9 199.47L643.18 199.47L643.18 199.73L645.46 199.73L645.46 200.11L647.74 200.11L647.74 200.7L650.02 200.7L650.02 201.53L652.29 201.53L652.29 202.55L654.57 202.55L654.57 203.72L656.85 203.72L656.85 205.12L659.13 205.12L659.13 206.7L661.41 206.7L661.41 208.51L663.69 208.51L663.69 210.53L665.97 210.53L665.97 212.7L668.25 212.7L668.25 215.12L670.53 215.12L670.53 217.73L672.81 217.73L672.81 220.54L675.09 220.54L675.09 223.56L677.36 223.56L677.36 226.7L679.64 226.7L679.64 230.22L681.92 230.22L681.92 233.8L684.2 233.8L684.2 237.55L686.48 237.55L686.48 241.72L688.76 241.72L688.76 245.82L691.04 245.82L691.04 250.48L693.32 250.48L693.32 254.9L695.6 254.9L695.6 259.44L697.88 259.44L697.88 264.41L700.15 264.41L700.15 269.8L702.43 269.8L702.43 275.28L704.71 275.28L704.71 281.57L706.99 281.57L706.99 285.31L709.27 285.31L709.27 292.14L711.55 292.14L711.55 297.55L713.83 297.55L713.83 306.52L716.11 306.52L716.11 312.17L718.39 312.17L718.39 321L720.66 321L720.66 320L722.94 320L722.94 344.7L725.22 344.7L725.22 344.7L727.5 344.7L727.5 344.7L729.78 344.7L729.78 340.9L732.06 340.9L732.06 344.7L734.34 344.7L734.34 344.7L736.62 344.7L736.62 344.7L738.9 344.7L738.9 344.7L741.18 344.7L741.18 344.7L743.45 344.7L743.45 344.7L745.73 344.7L745.73 344.7L748.01 344.7L748.01 344.7L750.29 344.7L750.29 344.7L752.57 344.7L752.57 344.7L754.85 344.7L754.85 344.7L757.13 344.7L757.13 344.7L759.41 344.7L759.41 344.7Z" fill="#f8d0d0" stroke="#e6262a" stroke-width="1.05" stroke-linejoin="miter"/>
<path d="M640.9 199.9V341.7" stroke="#000" stroke-opacity="0.19" stroke-width="1.4" fill="none"/>
<path d="M520.11 478.43L521.25 473.19L522.39 468L523.53 462.87L524.67 457.78L525.81 452.74L526.95 447.75L528.09 442.81L529.23 437.92L530.37 433.08L531.51 428.29L532.65 423.55L533.79 418.86L534.93 414.22L536.07 409.63L537.21 405.08L538.35 400.59L539.48 396.15L540.62 391.76L541.76 387.41L542.9 383.12L544.04 378.87L545.18 374.68L546.32 370.54L547.46 366.44L548.6 362.39L549.74 358.4L550.88 354.45L552.02 350.55L553.16 346.71L554.3 342.91L555.44 339.16L556.58 335.46L557.72 331.82L558.86 328.22L560 324.67L561.13 321.17L562.27 317.72L563.41 314.32L564.55 310.97L565.69 307.67L566.83 304.41L567.97 301.21L569.11 298.06L570.25 294.96L571.39 291.9L572.53 288.9L573.67 285.95L574.81 283.04L575.95 280.19L577.09 277.38L578.23 274.63L579.37 271.92L580.51 269.27L581.65 266.66L582.79 264.11L583.92 261.6L585.06 259.14L586.2 256.73L587.34 254.38L588.48 252.07L589.62 249.81L590.76 247.6L591.9 245.44L593.04 243.33L594.18 241.27L595.32 239.26L596.46 237.3L597.6 235.39L598.74 233.53L599.88 231.72L601.02 229.95L602.16 228.24L603.3 226.58L604.44 224.96L605.58 223.4L606.71 221.89L607.85 220.42L608.99 219.01L610.13 217.64L611.27 216.33L612.41 215.06L613.55 213.84L614.69 212.68L615.83 211.56L616.97 210.49L618.11 209.48L619.25 208.51L620.39 207.59L621.53 206.72L622.67 205.9L623.81 205.13L624.95 204.41L626.09 203.74L627.23 203.12L628.37 202.55L629.5 202.03L630.64 201.56L631.78 201.14L632.92 200.76L634.06 200.44L635.2 200.17L636.34 199.95L637.48 199.77L638.62 199.65L639.76 199.57L640.9 199.55L642.04 199.57L643.18 199.65L644.32 199.77L645.46 199.95L646.6 200.17L647.74 200.44L648.88 200.76L650.02 201.14L651.16 201.56L652.29 202.03L653.43 202.55L654.57 203.12L655.71 203.74L656.85 204.41L657.99 205.13L659.13 205.9L660.27 206.72L661.41 207.59L662.55 208.51L663.69 209.48L664.83 210.49L665.97 211.56L667.11 212.68L668.25 213.84L669.39 215.06L670.53 216.33L671.67 217.64L672.81 219.01L673.95 220.42L675.09 221.89L676.22 223.4L677.36 224.96L678.5 226.58L679.64 228.24L680.78 229.95L681.92 231.72L683.06 233.53L684.2 235.39L685.34 237.3L686.48 239.26L687.62 241.27L688.76 243.33L689.9 245.44L691.04 247.6L692.18 249.81L693.32 252.07L694.46 254.38L695.6 256.73L696.74 259.14L697.88 261.6L699.01 264.11L700.15 266.66L701.29 269.27L702.43 271.92L703.57 274.63L704.71 277.38L705.85 280.19L706.99 283.04L708.13 285.95L709.27 288.9L710.41 291.9L711.55 294.96L712.69 298.06L713.83 301.21L714.97 304.41L716.11 307.67L717.25 310.97L718.39 314.32L719.53 317.72L720.66 321.17L721.8 324.67L722.94 328.22L724.08 331.82L725.22 335.46L726.36 339.16L727.5 342.91L728.64 346.71L729.78 350.55L730.92 354.45L732.06 358.4L733.2 362.39L734.34 366.44L735.48 370.54L736.62 374.68L737.76 378.87L738.9 383.12L740.04 387.41L741.18 391.76L742.32 396.15L743.45 400.59L744.59 405.08L745.73 409.63L746.87 414.22L748.01 418.86L749.15 423.55L750.29 428.29L751.43 433.08L752.57 437.92L753.71 442.81L754.85 447.75L755.99 452.74L757.13 457.78L758.27 462.87L759.41 468L760.55 473.19L761.69 478.43" fill="none" stroke="#3e7ec2" stroke-width="1.05"/>
<path d="M520.11 480.61L521.25 475.34L522.39 470.11L523.53 464.93L524.67 459.8L525.81 454.72L526.95 449.69L528.09 444.71L529.23 439.78L530.37 434.9L531.51 430.08L532.65 425.3L533.79 420.57L534.93 415.89L536.07 411.26L537.21 406.68L538.35 402.15L539.48 397.68L540.62 393.25L541.76 388.87L542.9 384.54L544.04 380.26L545.18 376.03L546.32 371.86L547.46 367.73L548.6 363.65L549.74 359.62L550.88 355.64L552.02 351.72L553.16 347.84L554.3 344.01L555.44 340.23L556.58 336.5L557.72 332.83L558.86 329.2L560 325.62L561.13 322.09L562.27 318.62L563.41 315.19L564.55 311.81L565.69 308.48L566.83 305.21L567.97 301.98L569.11 298.8L570.25 295.67L571.39 292.6L572.53 289.57L573.67 286.59L574.81 283.66L575.95 280.79L577.09 277.96L578.23 275.18L579.37 272.46L580.51 269.78L581.65 267.15L582.79 264.57L583.92 262.05L585.06 259.57L586.2 257.14L587.34 254.77L588.48 252.44L589.62 250.16L590.76 247.94L591.9 245.76L593.04 243.63L594.18 241.56L595.32 239.53L596.46 237.55L597.6 235.63L598.74 233.75L599.88 231.92L601.02 230.15L602.16 228.42L603.3 226.75L604.44 225.12L605.58 223.54L606.71 222.02L607.85 220.54L608.99 219.11L610.13 217.74L611.27 216.41L612.41 215.14L613.55 213.91L614.69 212.73L615.83 211.61L616.97 210.53L618.11 209.51L619.25 208.53L620.39 207.61L621.53 206.73L622.67 205.9L623.81 205.13L624.95 204.4L626.09 203.73L627.23 203.1L628.37 202.53L629.5 202L630.64 201.53L631.78 201.1L632.92 200.73L634.06 200.4L635.2 200.12L636.34 199.9L637.48 199.72L638.62 199.6L639.76 199.52L640.9 199.5L642.04 199.52L643.18 199.6L644.32 199.72L645.46 199.9L646.6 200.12L647.74 200.4L648.88 200.73L650.02 201.1L651.16 201.53L652.29 202L653.43 202.53L654.57 203.1L655.71 203.73L656.85 204.4L657.99 205.13L659.13 205.9L660.27 206.73L661.41 207.61L662.55 208.53L663.69 209.51L664.83 210.53L665.97 211.61L667.11 212.73L668.25 213.91L669.39 215.14L670.53 216.41L671.67 217.74L672.81 219.11L673.95 220.54L675.09 222.02L676.22 223.54L677.36 225.12L678.5 226.75L679.64 228.42L680.78 230.15L681.92 231.92L683.06 233.75L684.2 235.63L685.34 237.55L686.48 239.53L687.62 241.56L688.76 243.63L689.9 245.76L691.04 247.94L692.18 250.16L693.32 252.44L694.46 254.77L695.6 257.14L696.74 259.57L697.88 262.05L699.01 264.57L700.15 267.15L701.29 269.78L702.43 272.46L703.57 275.18L704.71 277.96L705.85 280.79L706.99 283.66L708.13 286.59L709.27 289.57L710.41 292.6L711.55 295.67L712.69 298.8L713.83 301.98L714.97 305.21L716.11 308.48L717.25 311.81L718.39 315.19L719.53 318.62L720.66 322.09L721.8 325.62L722.94 329.2L724.08 332.83L725.22 336.5L726.36 340.23L727.5 344.01L728.64 347.84L729.78 351.72L730.92 355.64L732.06 359.62L733.2 363.65L734.34 367.73L735.48 371.86L736.62 376.03L737.76 380.26L738.9 384.54L740.04 388.87L741.18 393.25L742.32 397.68L743.45 402.15L744.59 406.68L745.73 411.26L746.87 415.89L748.01 420.57L749.15 425.3L750.29 430.08L751.43 434.9L752.57 439.78L753.71 444.71L754.85 449.69L755.99 454.72L757.13 459.8L758.27 464.93L759.41 470.11L760.55 475.34L761.69 480.61" fill="none" stroke="#4aad45" stroke-width="1.05"/>
<path d="M520.11 480.61L521.25 475.34L522.39 470.11L523.53 464.93L524.67 459.8L525.81 454.72L526.95 449.69L528.09 444.71L529.23 439.78L530.37 434.9L531.51 430.08L532.65 425.3L533.79 420.57L534.93 415.89L536.07 411.26L537.21 406.68L538.35 402.15L539.48 397.68L540.62 393.25L541.76 388.87L542.9 384.54L544.04 380.26L545.18 376.03L546.32 371.86L547.46 367.73L548.6 363.65L549.74 359.62L550.88 355.64L552.02 351.72L553.16 347.84L554.3 344.01L555.44 340.23L556.58 336.5L557.72 332.83L558.86 329.2L560 325.62L561.13 322.09L562.27 318.62L563.41 315.19L564.55 311.81L565.69 308.48L566.83 305.21L567.97 301.98L569.11 298.8L570.25 295.67L571.39 292.6L572.53 289.57L573.67 286.59L574.81 283.66L575.95 280.79L577.09 277.96L578.23 275.18L579.37 272.46L580.51 269.78L581.65 267.15L582.79 264.57L583.92 262.05L585.06 259.57L586.2 257.14L587.34 254.77L588.48 252.44L589.62 250.16L590.76 247.94L591.9 245.76L593.04 243.63L594.18 241.56L595.32 239.53L596.46 237.55L597.6 235.63L598.74 233.75L599.88 231.92L601.02 230.15L602.16 228.42L603.3 226.75L604.44 225.12L605.58 223.54L606.71 222.02L607.85 220.54L608.99 219.11L610.13 217.74L611.27 216.41L612.41 215.14L613.55 213.91L614.69 212.73L615.83 211.61L616.97 210.53L618.11 209.51L619.25 208.53L620.39 207.61L621.53 206.73L622.67 205.9L623.81 205.13L624.95 204.4L626.09 203.73L627.23 203.1L628.37 202.53L629.5 202L630.64 201.53L631.78 201.1L632.92 200.73L634.06 200.4L635.2 200.12L636.34 199.9L637.48 199.72L638.62 199.6L639.76 199.52L640.9 199.5L642.04 199.52L643.18 199.6L644.32 199.72L645.46 199.9L646.6 200.12L647.74 200.4L648.88 200.73L650.02 201.1L651.16 201.53L652.29 202L653.43 202.53L654.57 203.1L655.71 203.73L656.85 204.4L657.99 205.13L659.13 205.9L660.27 206.73L661.41 207.61L662.55 208.53L663.69 209.51L664.83 210.53L665.97 211.61L667.11 212.73L668.25 213.91L669.39 215.14L670.53 216.41L671.67 217.74L672.81 219.11L673.95 220.54L675.09 222.02L676.22 223.54L677.36 225.12L678.5 226.75L679.64 228.42L680.78 230.15L681.92 231.92L683.06 233.75L684.2 235.63L685.34 237.55L686.48 239.53L687.62 241.56L688.76 243.63L689.9 245.76L691.04 247.94L692.18 250.16L693.32 252.44L694.46 254.77L695.6 257.14L696.74 259.57L697.88 262.05L699.01 264.57L700.15 267.15L701.29 269.78L702.43 272.46L703.57 275.18L704.71 277.96L705.85 280.79L706.99 283.66L708.13 286.59L709.27 289.57L710.41 292.6L711.55 295.67L712.69 298.8L713.83 301.98L714.97 305.21L716.11 308.48L717.25 311.81L718.39 315.19L719.53 318.62L720.66 322.09L721.8 325.62L722.94 329.2L724.08 332.83L725.22 336.5L726.36 340.23L727.5 344.01L728.64 347.84L729.78 351.72L730.92 355.64L732.06 359.62L733.2 363.65L734.34 367.73L735.48 371.86L736.62 376.03L737.76 380.26L738.9 384.54L740.04 388.87L741.18 393.25L742.32 397.68L743.45 402.15L744.59 406.68L745.73 411.26L746.87 415.89L748.01 420.57L749.15 425.3L750.29 430.08L751.43 434.9L752.57 439.78L753.71 444.71L754.85 449.69L755.99 454.72L757.13 459.8L758.27 464.93L759.41 470.11L760.55 475.34L761.69 480.61" fill="none" stroke="#777" stroke-width="0.85" stroke-dasharray="2.2 2.2"/>
</g>
<g stroke="#000" stroke-opacity="0.1" stroke-width="1" fill="none">
<rect x="522.4" y="194.5" width="237.0" height="147.2"/>
<path d="M522.39 341.7v-1.8M522.39 194.5v1.8M531.51 341.7v-1.8M531.51 194.5v1.8M540.62 341.7v-1.8M540.62 194.5v1.8M549.74 341.7v-3.2M549.74 194.5v3.2M558.86 341.7v-1.8M558.86 194.5v1.8M567.97 341.7v-1.8M567.97 194.5v1.8M577.09 341.7v-1.8M577.09 194.5v1.8M586.2 341.7v-1.8M586.2 194.5v1.8M595.32 341.7v-3.2M595.32 194.5v3.2M604.44 341.7v-1.8M604.44 194.5v1.8M613.55 341.7v-1.8M613.55 194.5v1.8M622.67 341.7v-1.8M622.67 194.5v1.8M631.78 341.7v-1.8M631.78 194.5v1.8M640.9 341.7v-3.2M640.9 194.5v3.2M650.02 341.7v-1.8M650.02 194.5v1.8M659.13 341.7v-1.8M659.13 194.5v1.8M668.25 341.7v-1.8M668.25 194.5v1.8M677.36 341.7v-1.8M677.36 194.5v1.8M686.48 341.7v-3.2M686.48 194.5v3.2M695.6 341.7v-1.8M695.6 194.5v1.8M704.71 341.7v-1.8M704.71 194.5v1.8M713.83 341.7v-1.8M713.83 194.5v1.8M722.94 341.7v-1.8M722.94 194.5v1.8M732.06 341.7v-3.2M732.06 194.5v3.2M741.18 341.7v-1.8M741.18 194.5v1.8M750.29 341.7v-1.8M750.29 194.5v1.8M759.41 341.7v-1.8M759.41 194.5v1.8M522.4 341.7h3.2M759.4 341.7h-3.2M522.4 333.15h1.8M759.4 333.15h-1.8M522.4 328.15h1.8M759.4 328.15h-1.8M522.4 324.6h1.8M759.4 324.6h-1.8M522.4 321.85h1.8M759.4 321.85h-1.8M522.4 319.6h1.8M759.4 319.6h-1.8M522.4 317.7h1.8M759.4 317.7h-1.8M522.4 316.05h1.8M759.4 316.05h-1.8M522.4 314.6h1.8M759.4 314.6h-1.8M522.4 313.3h3.2M759.4 313.3h-3.2M522.4 304.75h1.8M759.4 304.75h-1.8M522.4 299.75h1.8M759.4 299.75h-1.8M522.4 296.2h1.8M759.4 296.2h-1.8M522.4 293.45h1.8M759.4 293.45h-1.8M522.4 291.2h1.8M759.4 291.2h-1.8M522.4 289.3h1.8M759.4 289.3h-1.8M522.4 287.65h1.8M759.4 287.65h-1.8M522.4 286.2h1.8M759.4 286.2h-1.8M522.4 284.9h3.2M759.4 284.9h-3.2M522.4 276.35h1.8M759.4 276.35h-1.8M522.4 271.35h1.8M759.4 271.35h-1.8M522.4 267.8h1.8M759.4 267.8h-1.8M522.4 265.05h1.8M759.4 265.05h-1.8M522.4 262.8h1.8M759.4 262.8h-1.8M522.4 260.9h1.8M759.4 260.9h-1.8M522.4 259.25h1.8M759.4 259.25h-1.8M522.4 257.8h1.8M759.4 257.8h-1.8M522.4 256.5h3.2M759.4 256.5h-3.2M522.4 247.95h1.8M759.4 247.95h-1.8M522.4 242.95h1.8M759.4 242.95h-1.8M522.4 239.4h1.8M759.4 239.4h-1.8M522.4 236.65h1.8M759.4 236.65h-1.8M522.4 234.4h1.8M759.4 234.4h-1.8M522.4 232.5h1.8M759.4 232.5h-1.8M522.4 230.85h1.8M759.4 230.85h-1.8M522.4 229.4h1.8M759.4 229.4h-1.8M522.4 228.1h3.2M759.4 228.1h-3.2M522.4 219.55h1.8M759.4 219.55h-1.8M522.4 214.55h1.8M759.4 214.55h-1.8M522.4 211h1.8M759.4 211h-1.8M522.4 208.25h1.8M759.4 208.25h-1.8M522.4 206h1.8M759.4 206h-1.8M522.4 204.1h1.8M759.4 204.1h-1.8M522.4 202.45h1.8M759.4 202.45h-1.8M522.4 201h1.8M759.4 201h-1.8M522.4 199.7h3.2M759.4 199.7h-3.2" stroke-opacity="0.17" stroke-width="0.7"/>
</g>
<text x="549.74" y="352.9" font-size="9.3" text-anchor="middle">−20</text>
<text x="595.32" y="352.9" font-size="9.3" text-anchor="middle">−10</text>
<text x="640.9" y="352.9" font-size="9.3" text-anchor="middle">0</text>
<text x="686.48" y="352.9" font-size="9.3" text-anchor="middle">10</text>
<text x="732.06" y="352.9" font-size="9.3" text-anchor="middle">20</text>
<text x="641.1" y="369.2" font-size="9.8" word-spacing="-0.3" text-anchor="middle">Speed v<tspan font-size="6.2" dy="1.6">⊥2</tspan><tspan dy="-1.6"> (km</tspan><tspan dx="-0.35"> s</tspan><tspan font-size="7" dy="-4.5">-1</tspan><tspan dy="4.5">)</tspan></text>
<text x="42" y="345.9" font-size="9.3" text-anchor="end">10<tspan font-size="6" dy="-4.8">−6</tspan></text>
<text x="42" y="317.5" font-size="9.3" text-anchor="end">10<tspan font-size="6" dy="-4.8">−5</tspan></text>
<text x="42" y="289.1" font-size="9.3" text-anchor="end">10<tspan font-size="6" dy="-4.8">−4</tspan></text>
<text x="41.8" y="260" font-size="9.3" text-anchor="end">0.001</text>
<text x="41.8" y="231.6" font-size="9.3" text-anchor="end">0.010</text>
<text x="41.8" y="203.2" font-size="9.3" text-anchor="end">0.100</text>
<text transform="translate(9.8 268.5) rotate(-90)" font-size="9.8" word-spacing="-0.3" text-anchor="middle">PDF (km<tspan dx="-0.35"> s</tspan><tspan font-size="7" dy="-4.5">-1</tspan><tspan dy="4.5">)</tspan><tspan font-size="7" dy="-4.5">-1</tspan></text>
<text x="92.2" y="204.6" font-size="8" font-weight="bold" text-anchor="middle">Primary population</text>
<text x="92.2" y="216.5" font-size="7.95" text-anchor="middle">Without angular</text>
<text x="92.2" y="228.3" font-size="7.95" text-anchor="middle">scattering</text>
<path d="M529.5 206.5h10" stroke="#e6262a" stroke-width="1.1" fill="none"/>
<text x="541.7" y="208.4" font-size="7.4">Results</text>
<path d="M529.5 218.5h10" stroke="#3e7ec2" stroke-width="1.1" fill="none"/>
<text x="541.7" y="220.7" font-size="7.4">Model</text>
<path d="M529.5 231.5h10" stroke="#4aad45" stroke-width="1.1" fill="none"/>
<text x="541.7" y="233" font-size="7.4">Maxwell</text>
<path d="M529.5 242.5h10" stroke="#777" stroke-width="1.1" fill="none" stroke-dasharray="2 2"/>
<text x="541.7" y="245.3" font-size="7.4">Pristine VLISM</text>
</svg>
</body></html>
